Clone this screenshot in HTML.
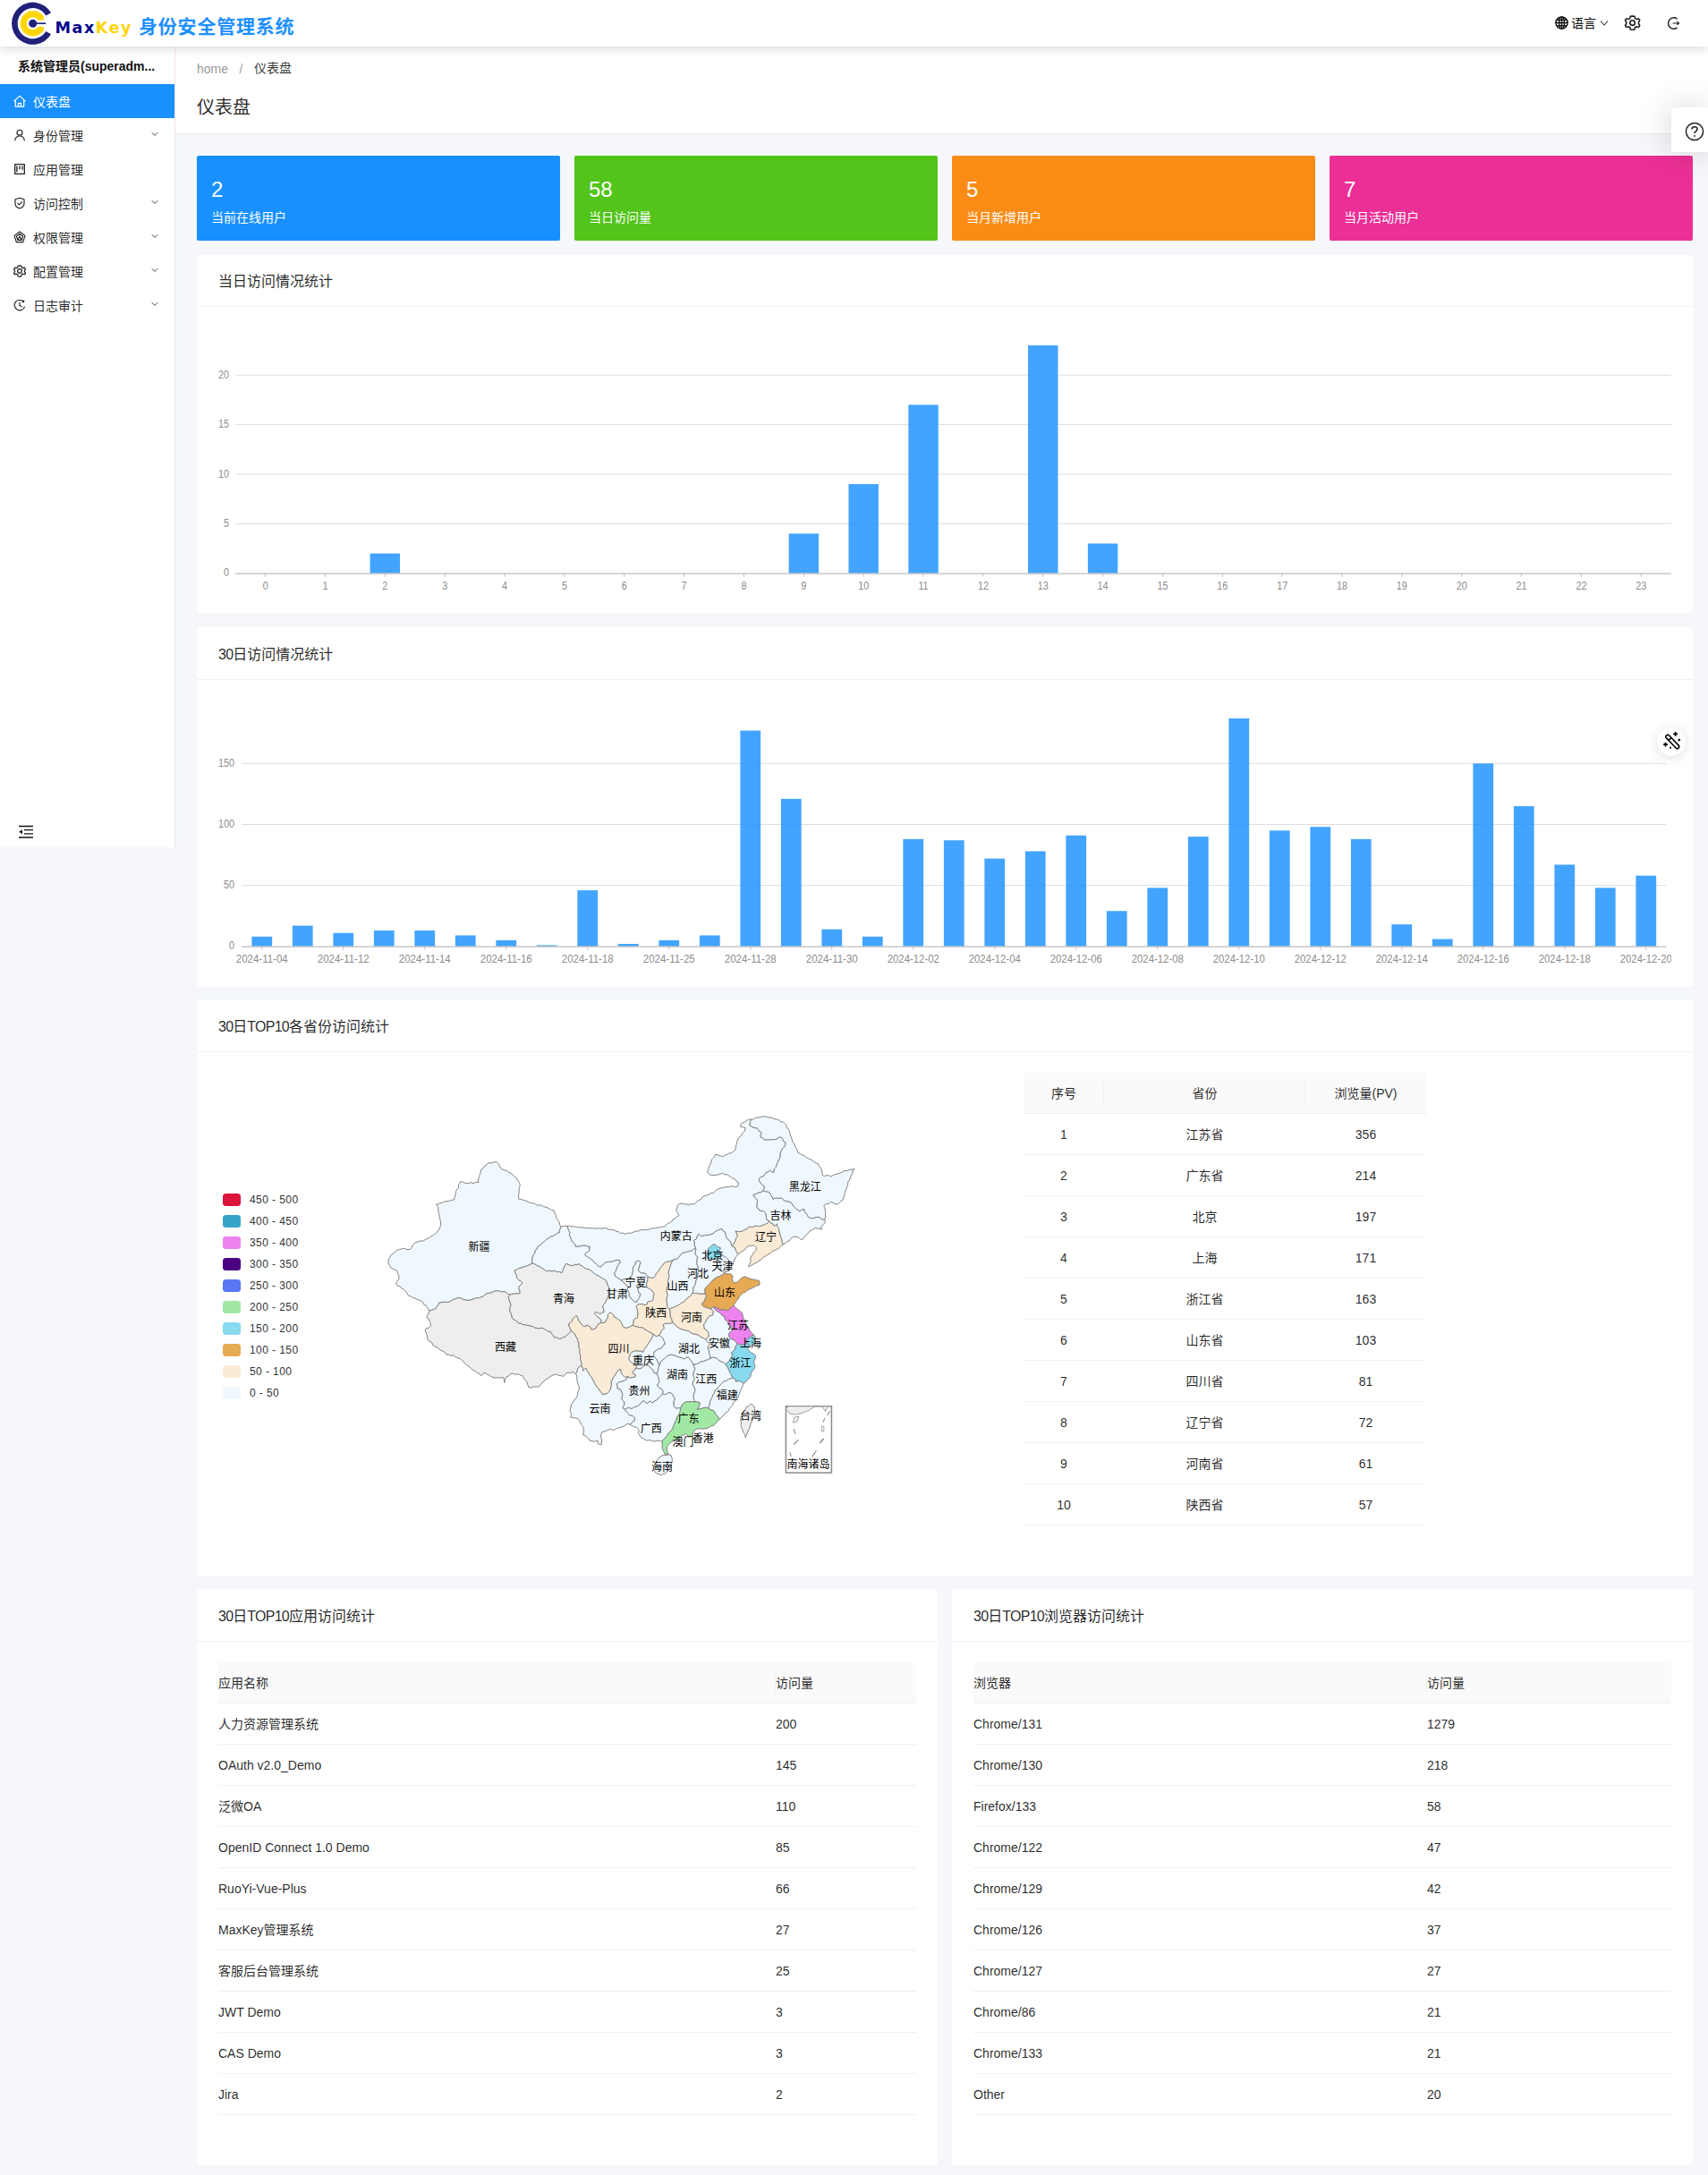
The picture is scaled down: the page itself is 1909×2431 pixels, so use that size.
<!DOCTYPE html>
<html lang="zh-CN"><head><meta charset="utf-8"><title>MaxKey</title><style>
*{box-sizing:border-box;margin:0;padding:0}
html,body{width:1909px;height:2431px;overflow:hidden}
body{background:#f5f7fa;font-family:"Liberation Sans","Noto Sans CJK SC",sans-serif;font-size:14px;color:rgba(0,0,0,.85);position:relative}
.abs{position:absolute}
#hdr{position:absolute;left:0;top:0;width:1909px;height:52px;background:#fff;box-shadow:0 1px 12px rgba(0,21,41,.2);z-index:10}
#side{position:absolute;left:0;top:52px;width:196px;height:895px;background:#fff;border-right:1px solid #f5e4e8;z-index:5}
#ph{position:absolute;left:196px;top:52px;width:1713px;height:98px;background:#fff;border-bottom:1px solid #f5e4e8}
.mi{position:absolute;left:0;width:195px;height:38px;line-height:38px;font-size:14px;color:rgba(0,0,0,.85)}
.mi .t{position:absolute;left:37px;top:1px}
.mi svg.ic{position:absolute;left:15px;top:12px;width:14px;height:14px}
.mi svg.ar{position:absolute;left:169px;top:14px;width:8px;height:8px}
.mi.sel{background:#1890ff;color:#fff}
.card{position:absolute;top:174px;width:406px;height:95px;border-radius:2px;color:#fff}
.card .n{position:absolute;left:16px;top:24px;font-size:24px;line-height:28px}
.card .l{position:absolute;left:16px;top:59px;font-size:14px;line-height:20px}
.panel{position:absolute;background:#fff;border-radius:2px}
.panel .pt{position:absolute;left:24px;top:0;height:57px;line-height:60px;font-size:16px;color:rgba(0,0,0,.85)}
.pt i{font-style:normal;letter-spacing:-.75px}
.panel .pl{position:absolute;left:0;top:57.5px;width:100%;height:1px;background:#f0f0f0}
svg text{font-family:"Liberation Sans","Noto Sans CJK SC",sans-serif}
table{border-collapse:collapse;table-layout:fixed;font-size:14px;color:rgba(0,0,0,.85)}
th{background:#fafafa;font-weight:normal;height:45px;border-bottom:1px solid #f0f0f0;position:relative}
td{height:46px;border-bottom:1px solid #f0f0f0}
td.la{padding-top:2px}
.tc th,.tc td{text-align:center}
.tl th,.tl td{text-align:left}
th.sep:after{content:"";position:absolute;right:0;top:11.5px;width:1px;height:22px;background:#f0f0f0}
</style></head><body>
<div id="hdr">
<svg class="abs" style="left:10px;top:0" width="52" height="52" viewBox="0 0 52 52">
 <path d="M47.0 14.2 A23.6 23.6 0 1 0 47.0 38.2 L41.4 35 A17.1 17.1 0 1 1 41.4 17.4 Z" fill="#21217a"/>
 <path d="M38.9 18.7 A14.2 14.2 0 1 0 38.9 33.7 L38.9 30 L32.7 29.7 A6.9 6.9 0 1 1 32.7 22.7 L38.9 22.4 Z" fill="#ffd60a"/>
 <circle cx="26.7" cy="26.2" r="4.5" fill="#21217a"/>
 <rect x="26.7" y="25.4" width="14.5" height="1.6" fill="#21217a"/>
</svg>
<div class="abs" style="left:61.5px;top:17.6px;font-family:'DejaVu Sans',sans-serif;font-size:17.6px;line-height:26px;font-weight:bold;letter-spacing:1.5px;white-space:nowrap"><span style="color:#00008b">Max</span><span style="color:#ffd60a">Key</span></div>
<div class="abs" style="left:155px;top:15px;font-size:21px;line-height:30px;font-weight:bold;letter-spacing:.8px;color:#1e90ff;white-space:nowrap">身份安全管理系统</div>
<svg class="abs" style="left:1737.5px;top:18.3px" width="15" height="15" viewBox="0 0 15 15" fill="none" stroke="#111" stroke-width="1.45">
<circle cx="7.5" cy="7.5" r="6.6"/><ellipse cx="7.5" cy="7.5" rx="3" ry="6.6"/><path d="M7.5 .9V14.1M.9 7.5H14.1M1.8 4.3H13.2M1.8 10.7H13.2"/></svg>
<div class="abs" style="left:1756px;top:15px;font-size:14px;line-height:22px;color:#111">语言</div>
<svg class="abs" style="left:1788px;top:22px" width="10" height="8" viewBox="0 0 10 8" fill="none" stroke="#333" stroke-width="1.1"><path d="M1 1.5L5 6L9 1.5"/></svg>
<svg class="abs" style="left:1815.2px;top:16.3px" width="19.2" height="19.2" viewBox="0 0 18 18" fill="none" stroke="#1a1a1a" stroke-width="1.45" stroke-linejoin="miter"><g transform="translate(0,1.1)"><path d="M9.0 0.7 L11.1 1.0 L11.7 3.2 L13.1 4.0 L15.3 3.4 L16.6 5.1 L15.5 7.1 L15.5 8.7 L16.6 10.7 L15.3 12.4 L13.1 11.8 L11.7 12.6 L11.1 14.8 L9.0 15.1 L6.9 14.8 L6.3 12.6 L4.9 11.8 L2.7 12.4 L1.4 10.7 L2.5 8.7 L2.5 7.1 L1.4 5.1 L2.7 3.4 L4.9 4.0 L6.3 3.2 L6.9 1.0 Z"/><circle cx="9" cy="7.9" r="2.6"/></g></svg>
<svg class="abs" style="left:1863px;top:18px" width="16" height="16" viewBox="0 0 16 16" fill="none" stroke="#222" stroke-width="1.45">
<path d="M11.6 3.1A6.2 6.2 0 1 0 11.6 12.9"/><path d="M6.5 8H13.5M11.3 6.2L13.6 8L11.3 9.8" stroke-width="1.1"/></svg>
</div>
<div id="side">
<div class="abs" style="left:20px;top:11px;width:160px;font-size:14px;line-height:22px;font-weight:bold;color:#111;white-space:nowrap">系统管理员(superadm...</div>
<div class="mi sel" style="top:42px"><svg class="ic" viewBox="0 0 14 14" fill="none" stroke="#fff" stroke-width="1.15" stroke-linejoin="round"><path d="M.5 7.4L7 1.1L13.5 7.4M2.3 6.2V13.1H11.7V6.2M5.5 13.1V9.4H8.5V13.1" stroke-width="1.25"/></svg><span class="t">仪表盘</span></div>
<div class="mi" style="top:80px"><svg class="ic" viewBox="0 0 14 14" fill="none" stroke="#222" stroke-width="1.15" stroke-linejoin="round"><circle cx="7" cy="4.2" r="3"/><path d="M1.6 13.2C2 9.8 4.2 8 7 8S12 9.8 12.4 13.2"/></svg><span class="t">身份管理</span><svg class="ar" viewBox="0 0 8 8" fill="none" stroke="#444" stroke-width="1"><path d="M.8 2.2L4 5.4L7.2 2.200"/></svg></div>
<div class="mi" style="top:118px"><svg class="ic" viewBox="0 0 14 14" fill="none" stroke="#222" stroke-width="1.15" stroke-linejoin="round"><rect x="1.65" y="1.65" width="10.7" height="10.7" stroke-width="1.3"/><path d="M3.9 3.4V10.3M7 3.4V7.2M10.1 3.4V7.8" stroke-width="1.35"/></svg><span class="t">应用管理</span></div>
<div class="mi" style="top:156px"><svg class="ic" viewBox="0 0 14 14" fill="none" stroke="#222" stroke-width="1.15" stroke-linejoin="round"><path d="M7 1.2L12 2.8V7.6C12 10.4 9.6 12.2 7 13C4.400 12.2 2 10.4 2 7.600V2.8Z"/><path d="M4.4 6.9L6.4 8.9L9.800 5.400"/></svg><span class="t">访问控制</span><svg class="ar" viewBox="0 0 8 8" fill="none" stroke="#444" stroke-width="1"><path d="M.8 2.2L4 5.4L7.2 2.200"/></svg></div>
<div class="mi" style="top:194px"><svg class="ic" viewBox="0 0 14 14" fill="none" stroke="#222" stroke-width="1.15" stroke-linejoin="round"><path d="M7 1L13 5.4L10.7 12.6H3.3L1 5.4Z"/><path d="M7 3.4L10.6 6L9.2 10.4H4.8L3.4 6Z"/><path d="M4.8 10.4L7 6.2L9.2 10.4"/></svg><span class="t">权限管理</span><svg class="ar" viewBox="0 0 8 8" fill="none" stroke="#444" stroke-width="1"><path d="M.8 2.2L4 5.4L7.2 2.200"/></svg></div>
<div class="mi" style="top:232px"><svg class="ic" viewBox="0 0 14 14" fill="none" stroke="#222" stroke-width="1.15" stroke-linejoin="round"><g transform="translate(-.65,.2) scale(.85)"><path d="M9.0 0.7 L11.1 1.0 L11.7 3.2 L13.1 4.0 L15.3 3.4 L16.6 5.1 L15.5 7.1 L15.5 8.7 L16.6 10.7 L15.3 12.4 L13.1 11.8 L11.7 12.6 L11.1 14.8 L9.0 15.1 L6.9 14.8 L6.3 12.6 L4.9 11.8 L2.7 12.4 L1.4 10.7 L2.5 8.7 L2.5 7.1 L1.4 5.1 L2.7 3.4 L4.9 4.0 L6.3 3.2 L6.9 1.0 Z" stroke-width="1.5"/><circle cx="9" cy="7.9" r="2.7" stroke-width="1.5"/></g></svg><span class="t">配置管理</span><svg class="ar" viewBox="0 0 8 8" fill="none" stroke="#444" stroke-width="1"><path d="M.8 2.2L4 5.4L7.2 2.200"/></svg></div>
<div class="mi" style="top:270px"><svg class="ic" viewBox="0 0 14 14" fill="none" stroke="#222" stroke-width="1.15" stroke-linejoin="round"><path d="M11.2 3.0A5.8 5.8 0 1 0 12.6 8.6"/><path d="M7 3.8V7.4L9.6 8.9"/><path d="M11.6 1.6V3.4H9.8"/></svg><span class="t">日志审计</span><svg class="ar" viewBox="0 0 8 8" fill="none" stroke="#444" stroke-width="1"><path d="M.8 2.2L4 5.4L7.2 2.200"/></svg></div>
<svg class="abs" style="left:20px;top:870.3px" width="18" height="16" viewBox="0 0 18 16" fill="none" stroke="#111" stroke-width="1.3"><path d="M1 1.5H17M7 5.700H17M7 9.800H17M1 14H17"/><path d="M5 5.200L1.200 7.700L5 10.200Z" fill="#111" stroke="none"/></svg>
</div>
<div id="ph">
<div class="abs" style="left:24px;top:14px;font-size:14px;line-height:22px;color:rgba(0,0,0,.45)">home</div>
<div class="abs" style="left:71.5px;top:14px;font-size:14px;line-height:22px;color:rgba(0,0,0,.45)">/</div>
<div class="abs" style="left:88px;top:13px;font-size:14px;line-height:22px;color:rgba(0,0,0,.8)">仪表盘</div>
<div class="abs" style="left:24px;top:52px;font-size:20px;line-height:32px;color:rgba(0,0,0,.85)">仪表盘</div>
</div>
<div class="abs" style="left:1868px;top:120px;width:41px;height:50px;background:#fff;border-radius:3px 0 0 3px;box-shadow:-2px 0 36px rgba(0,0,0,.16);z-index:12"><svg class="abs" style="left:15px;top:16px" width="22" height="22" viewBox="0 0 22 22" fill="none" stroke="#222" stroke-width="1.5"><circle cx="11" cy="11" r="9.600"/><path d="M8 8.600C8 6.800 9.300 5.800 11 5.800S14 6.900 14 8.500C14 10.600 11 10.600 11 13" stroke-width="1.600"/><circle cx="11" cy="16" r=".9" fill="#222" stroke="none"/></svg></div>
<div class="card" style="left:220px;background:#1890ff"><div class="n">2</div><div class="l">当前在线用户</div></div>
<div class="card" style="left:642px;background:#52c41a"><div class="n">58</div><div class="l">当日访问量</div></div>
<div class="card" style="left:1064px;background:#fa8c16"><div class="n">5</div><div class="l">当月新增用户</div></div>
<div class="card" style="left:1486px;background:#eb2f96"><div class="n">7</div><div class="l">当月活动用户</div></div>
<div class="panel" style="left:220px;top:285px;width:1672px;height:399.500px"><div class="pt">当日访问情况统计</div><div class="pl" style="top:57.2px"></div></div><svg class="abs" style="left:220px;top:343px" width="1672" height="340" viewBox="220 343 1672 340"><line x1="263.2" x2="1867.7" y1="585.38" y2="585.38" stroke="#dedede" stroke-width="1"/><line x1="263.2" x2="1867.7" y1="530.00" y2="530.00" stroke="#dedede" stroke-width="1"/><line x1="263.2" x2="1867.7" y1="474.62" y2="474.62" stroke="#dedede" stroke-width="1"/><line x1="263.2" x2="1867.7" y1="419.25" y2="419.25" stroke="#dedede" stroke-width="1"/><text transform="translate(256,644.25) scale(.9,1)" text-anchor="end" font-size="12" fill="#8c8c8c">0</text><text transform="translate(256,588.88) scale(.9,1)" text-anchor="end" font-size="12" fill="#8c8c8c">5</text><text transform="translate(256,533.50) scale(.9,1)" text-anchor="end" font-size="12" fill="#8c8c8c">10</text><text transform="translate(256,478.12) scale(.9,1)" text-anchor="end" font-size="12" fill="#8c8c8c">15</text><text transform="translate(256,422.75) scale(.9,1)" text-anchor="end" font-size="12" fill="#8c8c8c">20</text><line x1="296.63" x2="296.63" y1="640.75" y2="644.75" stroke="#bfbfbf" stroke-width="1"/><text transform="translate(296.63,659.30) scale(.9,1)" text-anchor="middle" font-size="12" fill="#8c8c8c">0</text><line x1="363.48" x2="363.48" y1="640.75" y2="644.75" stroke="#bfbfbf" stroke-width="1"/><text transform="translate(363.48,659.30) scale(.9,1)" text-anchor="middle" font-size="12" fill="#8c8c8c">1</text><line x1="430.34" x2="430.34" y1="640.75" y2="644.75" stroke="#bfbfbf" stroke-width="1"/><text transform="translate(430.34,659.30) scale(.9,1)" text-anchor="middle" font-size="12" fill="#8c8c8c">2</text><rect x="413.62" y="618.60" width="33.43" height="22.15" fill="#1890ff" fill-opacity=".82"/><line x1="497.19" x2="497.19" y1="640.75" y2="644.75" stroke="#bfbfbf" stroke-width="1"/><text transform="translate(497.19,659.30) scale(.9,1)" text-anchor="middle" font-size="12" fill="#8c8c8c">3</text><line x1="564.04" x2="564.04" y1="640.75" y2="644.75" stroke="#bfbfbf" stroke-width="1"/><text transform="translate(564.04,659.30) scale(.9,1)" text-anchor="middle" font-size="12" fill="#8c8c8c">4</text><line x1="630.90" x2="630.90" y1="640.75" y2="644.75" stroke="#bfbfbf" stroke-width="1"/><text transform="translate(630.90,659.30) scale(.9,1)" text-anchor="middle" font-size="12" fill="#8c8c8c">5</text><line x1="697.75" x2="697.75" y1="640.75" y2="644.75" stroke="#bfbfbf" stroke-width="1"/><text transform="translate(697.75,659.30) scale(.9,1)" text-anchor="middle" font-size="12" fill="#8c8c8c">6</text><line x1="764.61" x2="764.61" y1="640.75" y2="644.75" stroke="#bfbfbf" stroke-width="1"/><text transform="translate(764.61,659.30) scale(.9,1)" text-anchor="middle" font-size="12" fill="#8c8c8c">7</text><line x1="831.46" x2="831.46" y1="640.75" y2="644.75" stroke="#bfbfbf" stroke-width="1"/><text transform="translate(831.46,659.30) scale(.9,1)" text-anchor="middle" font-size="12" fill="#8c8c8c">8</text><line x1="898.31" x2="898.31" y1="640.75" y2="644.75" stroke="#bfbfbf" stroke-width="1"/><text transform="translate(898.31,659.30) scale(.9,1)" text-anchor="middle" font-size="12" fill="#8c8c8c">9</text><rect x="881.60" y="596.45" width="33.43" height="44.30" fill="#1890ff" fill-opacity=".82"/><line x1="965.17" x2="965.17" y1="640.75" y2="644.75" stroke="#bfbfbf" stroke-width="1"/><text transform="translate(965.17,659.30) scale(.9,1)" text-anchor="middle" font-size="12" fill="#8c8c8c">10</text><rect x="948.46" y="541.08" width="33.43" height="99.67" fill="#1890ff" fill-opacity=".82"/><line x1="1032.02" x2="1032.02" y1="640.75" y2="644.75" stroke="#bfbfbf" stroke-width="1"/><text transform="translate(1032.02,659.30) scale(.9,1)" text-anchor="middle" font-size="12" fill="#8c8c8c">11</text><rect x="1015.31" y="452.48" width="33.43" height="188.27" fill="#1890ff" fill-opacity=".82"/><line x1="1098.88" x2="1098.88" y1="640.75" y2="644.75" stroke="#bfbfbf" stroke-width="1"/><text transform="translate(1098.88,659.30) scale(.9,1)" text-anchor="middle" font-size="12" fill="#8c8c8c">12</text><line x1="1165.73" x2="1165.73" y1="640.75" y2="644.75" stroke="#bfbfbf" stroke-width="1"/><text transform="translate(1165.73,659.30) scale(.9,1)" text-anchor="middle" font-size="12" fill="#8c8c8c">13</text><rect x="1149.02" y="386.02" width="33.43" height="254.72" fill="#1890ff" fill-opacity=".82"/><line x1="1232.59" x2="1232.59" y1="640.75" y2="644.75" stroke="#bfbfbf" stroke-width="1"/><text transform="translate(1232.59,659.30) scale(.9,1)" text-anchor="middle" font-size="12" fill="#8c8c8c">14</text><rect x="1215.87" y="607.52" width="33.43" height="33.22" fill="#1890ff" fill-opacity=".82"/><line x1="1299.44" x2="1299.44" y1="640.75" y2="644.75" stroke="#bfbfbf" stroke-width="1"/><text transform="translate(1299.44,659.30) scale(.9,1)" text-anchor="middle" font-size="12" fill="#8c8c8c">15</text><line x1="1366.29" x2="1366.29" y1="640.75" y2="644.75" stroke="#bfbfbf" stroke-width="1"/><text transform="translate(1366.29,659.30) scale(.9,1)" text-anchor="middle" font-size="12" fill="#8c8c8c">16</text><line x1="1433.15" x2="1433.15" y1="640.75" y2="644.75" stroke="#bfbfbf" stroke-width="1"/><text transform="translate(1433.15,659.30) scale(.9,1)" text-anchor="middle" font-size="12" fill="#8c8c8c">17</text><line x1="1500.00" x2="1500.00" y1="640.75" y2="644.75" stroke="#bfbfbf" stroke-width="1"/><text transform="translate(1500.00,659.30) scale(.9,1)" text-anchor="middle" font-size="12" fill="#8c8c8c">18</text><line x1="1566.86" x2="1566.86" y1="640.75" y2="644.75" stroke="#bfbfbf" stroke-width="1"/><text transform="translate(1566.86,659.30) scale(.9,1)" text-anchor="middle" font-size="12" fill="#8c8c8c">19</text><line x1="1633.71" x2="1633.71" y1="640.75" y2="644.75" stroke="#bfbfbf" stroke-width="1"/><text transform="translate(1633.71,659.30) scale(.9,1)" text-anchor="middle" font-size="12" fill="#8c8c8c">20</text><line x1="1700.56" x2="1700.56" y1="640.75" y2="644.75" stroke="#bfbfbf" stroke-width="1"/><text transform="translate(1700.56,659.30) scale(.9,1)" text-anchor="middle" font-size="12" fill="#8c8c8c">21</text><line x1="1767.42" x2="1767.42" y1="640.75" y2="644.75" stroke="#bfbfbf" stroke-width="1"/><text transform="translate(1767.42,659.30) scale(.9,1)" text-anchor="middle" font-size="12" fill="#8c8c8c">22</text><line x1="1834.27" x2="1834.27" y1="640.75" y2="644.75" stroke="#bfbfbf" stroke-width="1"/><text transform="translate(1834.27,659.30) scale(.9,1)" text-anchor="middle" font-size="12" fill="#8c8c8c">23</text><line x1="263.2" x2="1867.7" y1="641.10" y2="641.10" stroke="#bdbdbd" stroke-width="1.3"/></svg>
<div class="panel" style="left:220px;top:701.25px;width:1672px;height:400.5px"><div class="pt" style="top:.5px"><i>30</i>日访问情况统计</div><div class="pl" style="top:57.7px"></div></div><svg class="abs" style="left:220px;top:760px;overflow:hidden" width="1648" height="340" viewBox="220 760 1648 340"><line x1="270.0" x2="1862.5" y1="989.62" y2="989.62" stroke="#dedede" stroke-width="1"/><line x1="270.0" x2="1862.5" y1="921.50" y2="921.50" stroke="#dedede" stroke-width="1"/><line x1="270.0" x2="1862.5" y1="853.38" y2="853.38" stroke="#dedede" stroke-width="1"/><text transform="translate(262,1061.25) scale(.9,1)" text-anchor="end" font-size="12" fill="#8c8c8c">0</text><text transform="translate(262,993.12) scale(.9,1)" text-anchor="end" font-size="12" fill="#8c8c8c">50</text><text transform="translate(262,925.00) scale(.9,1)" text-anchor="end" font-size="12" fill="#8c8c8c">100</text><text transform="translate(262,856.88) scale(.9,1)" text-anchor="end" font-size="12" fill="#8c8c8c">150</text><rect x="281.38" y="1046.85" width="22.75" height="10.90" fill="#1890ff" fill-opacity=".82"/><line x1="292.75" x2="292.75" y1="1057.75" y2="1061.75" stroke="#bfbfbf" stroke-width="1"/><text x="292.75" y="1076.00" text-anchor="middle" font-size="12" fill="#8c8c8c" textLength="58" lengthAdjust="spacingAndGlyphs">2024-11-04</text><rect x="326.88" y="1034.59" width="22.75" height="23.16" fill="#1890ff" fill-opacity=".82"/><rect x="372.38" y="1042.76" width="22.75" height="14.99" fill="#1890ff" fill-opacity=".82"/><line x1="383.75" x2="383.75" y1="1057.75" y2="1061.75" stroke="#bfbfbf" stroke-width="1"/><text x="383.75" y="1076.00" text-anchor="middle" font-size="12" fill="#8c8c8c" textLength="58" lengthAdjust="spacingAndGlyphs">2024-11-12</text><rect x="417.88" y="1040.04" width="22.75" height="17.71" fill="#1890ff" fill-opacity=".82"/><rect x="463.38" y="1040.04" width="22.75" height="17.71" fill="#1890ff" fill-opacity=".82"/><line x1="474.75" x2="474.75" y1="1057.75" y2="1061.75" stroke="#bfbfbf" stroke-width="1"/><text x="474.75" y="1076.00" text-anchor="middle" font-size="12" fill="#8c8c8c" textLength="58" lengthAdjust="spacingAndGlyphs">2024-11-14</text><rect x="508.88" y="1045.49" width="22.75" height="12.26" fill="#1890ff" fill-opacity=".82"/><rect x="554.38" y="1050.94" width="22.75" height="6.81" fill="#1890ff" fill-opacity=".82"/><line x1="565.75" x2="565.75" y1="1057.75" y2="1061.75" stroke="#bfbfbf" stroke-width="1"/><text x="565.75" y="1076.00" text-anchor="middle" font-size="12" fill="#8c8c8c" textLength="58" lengthAdjust="spacingAndGlyphs">2024-11-16</text><rect x="599.88" y="1056.39" width="22.75" height="1.36" fill="#1890ff" fill-opacity=".82"/><rect x="645.38" y="995.08" width="22.75" height="62.68" fill="#1890ff" fill-opacity=".82"/><line x1="656.75" x2="656.75" y1="1057.75" y2="1061.75" stroke="#bfbfbf" stroke-width="1"/><text x="656.75" y="1076.00" text-anchor="middle" font-size="12" fill="#8c8c8c" textLength="58" lengthAdjust="spacingAndGlyphs">2024-11-18</text><rect x="690.88" y="1055.03" width="22.75" height="2.73" fill="#1890ff" fill-opacity=".82"/><rect x="736.38" y="1050.94" width="22.75" height="6.81" fill="#1890ff" fill-opacity=".82"/><line x1="747.75" x2="747.75" y1="1057.75" y2="1061.75" stroke="#bfbfbf" stroke-width="1"/><text x="747.75" y="1076.00" text-anchor="middle" font-size="12" fill="#8c8c8c" textLength="58" lengthAdjust="spacingAndGlyphs">2024-11-25</text><rect x="781.88" y="1045.49" width="22.75" height="12.26" fill="#1890ff" fill-opacity=".82"/><rect x="827.38" y="816.59" width="22.75" height="241.16" fill="#1890ff" fill-opacity=".82"/><line x1="838.75" x2="838.75" y1="1057.75" y2="1061.75" stroke="#bfbfbf" stroke-width="1"/><text x="838.75" y="1076.00" text-anchor="middle" font-size="12" fill="#8c8c8c" textLength="58" lengthAdjust="spacingAndGlyphs">2024-11-28</text><rect x="872.88" y="892.89" width="22.75" height="164.86" fill="#1890ff" fill-opacity=".82"/><rect x="918.38" y="1038.67" width="22.75" height="19.07" fill="#1890ff" fill-opacity=".82"/><line x1="929.75" x2="929.75" y1="1057.75" y2="1061.75" stroke="#bfbfbf" stroke-width="1"/><text x="929.75" y="1076.00" text-anchor="middle" font-size="12" fill="#8c8c8c" textLength="58" lengthAdjust="spacingAndGlyphs">2024-11-30</text><rect x="963.88" y="1046.85" width="22.75" height="10.90" fill="#1890ff" fill-opacity=".82"/><rect x="1009.38" y="937.85" width="22.75" height="119.90" fill="#1890ff" fill-opacity=".82"/><line x1="1020.75" x2="1020.75" y1="1057.75" y2="1061.75" stroke="#bfbfbf" stroke-width="1"/><text x="1020.75" y="1076.00" text-anchor="middle" font-size="12" fill="#8c8c8c" textLength="58" lengthAdjust="spacingAndGlyphs">2024-12-02</text><rect x="1054.88" y="939.21" width="22.75" height="118.54" fill="#1890ff" fill-opacity=".82"/><rect x="1100.38" y="959.65" width="22.75" height="98.10" fill="#1890ff" fill-opacity=".82"/><line x1="1111.75" x2="1111.75" y1="1057.75" y2="1061.75" stroke="#bfbfbf" stroke-width="1"/><text x="1111.75" y="1076.00" text-anchor="middle" font-size="12" fill="#8c8c8c" textLength="58" lengthAdjust="spacingAndGlyphs">2024-12-04</text><rect x="1145.88" y="951.48" width="22.75" height="106.28" fill="#1890ff" fill-opacity=".82"/><rect x="1191.38" y="933.76" width="22.75" height="123.99" fill="#1890ff" fill-opacity=".82"/><line x1="1202.75" x2="1202.75" y1="1057.75" y2="1061.75" stroke="#bfbfbf" stroke-width="1"/><text x="1202.75" y="1076.00" text-anchor="middle" font-size="12" fill="#8c8c8c" textLength="58" lengthAdjust="spacingAndGlyphs">2024-12-06</text><rect x="1236.88" y="1018.24" width="22.75" height="39.51" fill="#1890ff" fill-opacity=".82"/><rect x="1282.38" y="992.35" width="22.75" height="65.40" fill="#1890ff" fill-opacity=".82"/><line x1="1293.75" x2="1293.75" y1="1057.75" y2="1061.75" stroke="#bfbfbf" stroke-width="1"/><text x="1293.75" y="1076.00" text-anchor="middle" font-size="12" fill="#8c8c8c" textLength="58" lengthAdjust="spacingAndGlyphs">2024-12-08</text><rect x="1327.88" y="935.12" width="22.75" height="122.62" fill="#1890ff" fill-opacity=".82"/><rect x="1373.38" y="802.96" width="22.75" height="254.79" fill="#1890ff" fill-opacity=".82"/><line x1="1384.75" x2="1384.75" y1="1057.75" y2="1061.75" stroke="#bfbfbf" stroke-width="1"/><text x="1384.75" y="1076.00" text-anchor="middle" font-size="12" fill="#8c8c8c" textLength="58" lengthAdjust="spacingAndGlyphs">2024-12-10</text><rect x="1418.88" y="928.31" width="22.75" height="129.44" fill="#1890ff" fill-opacity=".82"/><rect x="1464.38" y="924.23" width="22.75" height="133.53" fill="#1890ff" fill-opacity=".82"/><line x1="1475.75" x2="1475.75" y1="1057.75" y2="1061.75" stroke="#bfbfbf" stroke-width="1"/><text x="1475.75" y="1076.00" text-anchor="middle" font-size="12" fill="#8c8c8c" textLength="58" lengthAdjust="spacingAndGlyphs">2024-12-12</text><rect x="1509.88" y="937.85" width="22.75" height="119.90" fill="#1890ff" fill-opacity=".82"/><rect x="1555.38" y="1033.22" width="22.75" height="24.53" fill="#1890ff" fill-opacity=".82"/><line x1="1566.75" x2="1566.75" y1="1057.75" y2="1061.75" stroke="#bfbfbf" stroke-width="1"/><text x="1566.75" y="1076.00" text-anchor="middle" font-size="12" fill="#8c8c8c" textLength="58" lengthAdjust="spacingAndGlyphs">2024-12-14</text><rect x="1600.88" y="1049.58" width="22.75" height="8.18" fill="#1890ff" fill-opacity=".82"/><rect x="1646.38" y="853.38" width="22.75" height="204.38" fill="#1890ff" fill-opacity=".82"/><line x1="1657.75" x2="1657.75" y1="1057.75" y2="1061.75" stroke="#bfbfbf" stroke-width="1"/><text x="1657.75" y="1076.00" text-anchor="middle" font-size="12" fill="#8c8c8c" textLength="58" lengthAdjust="spacingAndGlyphs">2024-12-16</text><rect x="1691.88" y="901.06" width="22.75" height="156.69" fill="#1890ff" fill-opacity=".82"/><rect x="1737.38" y="966.46" width="22.75" height="91.29" fill="#1890ff" fill-opacity=".82"/><line x1="1748.75" x2="1748.75" y1="1057.75" y2="1061.75" stroke="#bfbfbf" stroke-width="1"/><text x="1748.75" y="1076.00" text-anchor="middle" font-size="12" fill="#8c8c8c" textLength="58" lengthAdjust="spacingAndGlyphs">2024-12-18</text><rect x="1782.88" y="992.35" width="22.75" height="65.40" fill="#1890ff" fill-opacity=".82"/><rect x="1828.38" y="978.73" width="22.75" height="79.03" fill="#1890ff" fill-opacity=".82"/><line x1="1839.75" x2="1839.75" y1="1057.75" y2="1061.75" stroke="#bfbfbf" stroke-width="1"/><text x="1839.75" y="1076.00" text-anchor="middle" font-size="12" fill="#8c8c8c" textLength="58" lengthAdjust="spacingAndGlyphs">2024-12-20</text><line x1="270.0" x2="1862.5" y1="1058.10" y2="1058.10" stroke="#bdbdbd" stroke-width="1.3"/></svg>
<div class="abs" style="left:1852px;top:813px;width:32px;height:32px;border-radius:16px;background:#fff;box-shadow:0 2px 14px rgba(0,0,0,.13);z-index:11"><svg class="abs" style="left:0;top:0" width="32" height="32" viewBox="0 0 32 32" fill="none" stroke="#000" stroke-width="1.5"><g transform="translate(17.3,16) rotate(46.3)"><rect x="-9.800" y="-2.100" width="19.600" height="4.200" rx="2.100"/><path d="M-4.200 -2.100V2.100"/></g><path d="M20.600 4.900V9.700M18.200 7.300H23M9.500 16.700V21.500M7.100 19.100H11.900" stroke-width="1.700"/><circle cx="24.800" cy="14.100" r="1.350" fill="#000" stroke="none"/><circle cx="15" cy="22.800" r="1.050" fill="#000" stroke="none"/></svg></div>
<div class="panel" style="left:220px;top:1118px;width:1672px;height:642.750px"><div class="pt" style="top:.3px"><i>30</i>日<i>TOP10</i>各省份访问统计</div><div class="pl" style="top:56.6px"></div></div>
<div class="abs" style="left:249px;top:1334px;width:20px;height:14px;border-radius:3.500px;background:#dc143c"></div><div class="abs" style="left:279px;top:1334px;font-size:12px;line-height:14px;color:#333;white-space:nowrap;letter-spacing:.42px">450 - 500</div>
<div class="abs" style="left:249px;top:1358px;width:20px;height:14px;border-radius:3.500px;background:#36a3c9"></div><div class="abs" style="left:279px;top:1358px;font-size:12px;line-height:14px;color:#333;white-space:nowrap;letter-spacing:.42px">400 - 450</div>
<div class="abs" style="left:249px;top:1382px;width:20px;height:14px;border-radius:3.500px;background:#ee82ee"></div><div class="abs" style="left:279px;top:1382px;font-size:12px;line-height:14px;color:#333;white-space:nowrap;letter-spacing:.42px">350 - 400</div>
<div class="abs" style="left:249px;top:1406px;width:20px;height:14px;border-radius:3.500px;background:#4b0082"></div><div class="abs" style="left:279px;top:1406px;font-size:12px;line-height:14px;color:#333;white-space:nowrap;letter-spacing:.42px">300 - 350</div>
<div class="abs" style="left:249px;top:1430px;width:20px;height:14px;border-radius:3.500px;background:#5976f5"></div><div class="abs" style="left:279px;top:1430px;font-size:12px;line-height:14px;color:#333;white-space:nowrap;letter-spacing:.42px">250 - 300</div>
<div class="abs" style="left:249px;top:1454px;width:20px;height:14px;border-radius:3.500px;background:#a0e8a4"></div><div class="abs" style="left:279px;top:1454px;font-size:12px;line-height:14px;color:#333;white-space:nowrap;letter-spacing:.42px">200 - 250</div>
<div class="abs" style="left:249px;top:1478px;width:20px;height:14px;border-radius:3.500px;background:#87d9ee"></div><div class="abs" style="left:279px;top:1478px;font-size:12px;line-height:14px;color:#333;white-space:nowrap;letter-spacing:.42px">150 - 200</div>
<div class="abs" style="left:249px;top:1502px;width:20px;height:14px;border-radius:3.500px;background:#e6aa54"></div><div class="abs" style="left:279px;top:1502px;font-size:12px;line-height:14px;color:#333;white-space:nowrap;letter-spacing:.42px">100 - 150</div>
<div class="abs" style="left:249px;top:1526px;width:20px;height:14px;border-radius:3.500px;background:#faebd7"></div><div class="abs" style="left:279px;top:1526px;font-size:12px;line-height:14px;color:#333;white-space:nowrap;letter-spacing:.42px">50 - 100</div>
<div class="abs" style="left:249px;top:1550px;width:20px;height:14px;border-radius:3.500px;background:#f0f8ff"></div><div class="abs" style="left:279px;top:1550px;font-size:12px;line-height:14px;color:#333;white-space:nowrap;letter-spacing:.42px">0 - 50</div>
<svg class="abs" style="left:420px;top:1236px" width="560" height="430" viewBox="420 1236 560 430">
<g stroke="#828282" stroke-width="1" stroke-linejoin="round">
<path d="M479.5 1465.3L478.7 1462.8L477.1 1460.9L475.8 1458.8L473.2 1457.6L472.4 1455.1L469.5 1453.4L466.3 1452.5L464.0 1451.0L461.4 1450.3L459.1 1449.0L456.6 1448.1L455.0 1445.6L453.4 1443.2L451.3 1441.1L448.8 1440.0L447.1 1437.8L444.4 1437.0L442.6 1434.9L443.4 1432.7L445.0 1430.9L446.1 1428.8L445.6 1425.7L444.5 1422.9L443.4 1420.0L441.0 1418.9L438.6 1417.9L436.4 1416.5L435.4 1414.2L434.1 1412.0L433.8 1409.4L434.7 1407.0L436.2 1404.8L437.3 1402.4L439.9 1401.0L441.9 1398.8L444.3 1397.1L446.7 1396.7L449.0 1395.9L451.3 1395.4L453.6 1396.2L456.0 1396.6L458.4 1396.3L460.1 1394.4L460.9 1391.9L462.8 1390.1L465.0 1388.6L467.5 1387.8L469.9 1386.9L472.8 1387.2L475.1 1385.7L477.1 1384.4L479.6 1383.9L481.3 1381.9L483.6 1381.0L485.6 1379.6L487.6 1378.1L489.0 1376.0L490.9 1374.3L491.9 1371.5L492.7 1368.6L492.6 1365.5L491.9 1362.9L491.1 1360.4L491.1 1357.7L490.1 1355.1L489.7 1352.5L490.0 1349.7L487.4 1346.2L489.8 1346.0L491.9 1344.7L494.3 1344.5L496.4 1343.0L498.8 1342.7L501.8 1342.4L504.6 1341.4L507.6 1340.9L508.2 1338.6L508.5 1336.2L509.3 1333.9L509.6 1331.5L510.8 1329.4L512.6 1327.6L512.3 1324.9L513.5 1322.9L514.6 1320.7L517.5 1321.4L520.3 1322.4L523.4 1322.5L526.2 1321.7L529.1 1322.8L531.9 1321.1L534.8 1321.6L534.6 1319.2L534.9 1316.8L535.6 1314.5L536.5 1312.2L537.3 1310.0L537.4 1307.6L539.6 1306.5L540.6 1304.1L542.9 1303.1L544.3 1301.0L546.2 1299.7L549.2 1300.0L552.1 1299.0L555.0 1298.4L556.8 1300.3L557.9 1302.6L559.1 1305.0L561.1 1306.7L563.4 1308.0L566.3 1308.2L568.4 1310.0L570.8 1311.1L573.0 1312.7L574.7 1314.9L576.9 1316.3L578.2 1318.5L579.6 1320.5L580.7 1322.7L581.3 1325.1L580.5 1327.6L580.1 1330.0L580.1 1332.6L579.7 1335.0L579.6 1337.5L579.6 1340.1L582.1 1340.2L584.4 1341.2L586.7 1342.0L589.1 1342.6L591.2 1343.9L593.6 1344.5L596.1 1344.7L598.4 1345.8L600.5 1347.2L603.2 1346.8L605.5 1347.4L607.7 1348.8L610.1 1349.2L612.4 1350.2L614.6 1351.3L616.7 1352.5L619.1 1353.2L619.8 1356.0L621.5 1358.4L621.8 1361.4L623.5 1363.8L625.1 1366.0L625.5 1368.8L627.0 1371.2L626.3 1373.3L625.3 1375.5L625.2 1377.8L622.7 1378.5L620.5 1380.0L618.3 1381.6L615.5 1381.8L613.6 1383.9L611.2 1384.9L609.2 1386.8L607.2 1388.6L605.2 1390.5L603.1 1392.3L600.7 1393.6L600.2 1396.1L598.0 1397.8L598.0 1400.5L596.3 1402.4L595.3 1404.7L594.7 1407.1L595.1 1409.7L594.5 1412.1L592.0 1413.6L589.4 1414.8L586.6 1415.6L584.3 1416.4L582.0 1417.2L579.5 1417.7L577.5 1419.2L575.2 1420.0L576.1 1422.9L577.4 1425.7L577.8 1428.8L579.7 1430.7L582.2 1431.9L584.0 1434.0L581.6 1436.5L579.6 1439.3L580.7 1442.3L581.3 1445.5L579.1 1446.1L576.7 1445.7L574.5 1446.3L572.1 1446.4L569.9 1447.2L567.6 1446.2L565.5 1444.6L563.0 1443.4L560.2 1444.1L557.7 1442.7L555.0 1442.8L552.3 1443.2L549.8 1444.6L547.2 1445.4L544.4 1445.5L542.1 1446.9L540.1 1449.0L537.4 1449.8L535.2 1450.8L532.6 1450.6L530.4 1451.5L528.1 1452.5L525.8 1453.0L523.4 1453.4L520.9 1453.0L518.3 1452.8L516.1 1451.2L513.6 1450.8L511.1 1450.7L508.9 1451.9L506.5 1452.5L504.3 1453.7L502.3 1455.1L499.4 1455.5L496.5 1455.2L493.7 1455.8L490.9 1456.0L489.7 1458.5L488.2 1460.8L486.5 1463.0L484.1 1463.8L481.8 1464.6L479.5 1465.3Z" fill="#f0f8ff"/>
<path d="M479.5 1465.3L481.8 1464.6L484.1 1463.8L486.5 1463.0L488.2 1460.8L489.7 1458.5L490.9 1456.0L493.7 1455.8L496.5 1455.2L499.4 1455.5L502.3 1455.1L504.3 1453.7L506.5 1452.5L508.9 1451.9L511.1 1450.7L513.6 1450.8L516.1 1451.2L518.3 1452.8L520.9 1453.0L523.4 1453.4L525.8 1453.0L528.1 1452.5L530.4 1451.5L532.6 1450.6L535.2 1450.8L537.4 1449.8L540.1 1449.0L542.1 1446.9L544.4 1445.5L547.2 1445.4L549.8 1444.6L552.3 1443.2L555.0 1442.8L557.7 1442.7L560.2 1444.1L563.0 1443.4L565.5 1444.6L567.6 1446.2L569.9 1447.2L568.2 1449.8L569.0 1452.2L569.5 1454.7L570.8 1456.9L570.8 1459.8L569.7 1462.7L569.9 1465.7L571.3 1468.1L572.0 1470.8L572.5 1473.6L575.1 1475.1L577.5 1476.8L579.6 1478.8L582.3 1479.0L584.7 1480.7L587.5 1480.7L590.1 1481.5L592.9 1481.8L595.6 1482.7L598.0 1484.1L600.4 1484.6L602.8 1484.8L605.3 1484.1L607.7 1485.0L610.2 1486.4L612.6 1488.0L615.6 1488.5L616.4 1490.7L618.3 1492.4L619.1 1494.6L622.4 1494.8L625.2 1496.4L627.5 1495.7L629.6 1494.6L632.1 1493.8L634.0 1492.0L636.5 1489.6L638.4 1486.7L640.1 1489.1L642.6 1490.9L643.7 1493.8L645.2 1495.9L645.8 1498.5L646.9 1500.8L647.2 1503.4L646.8 1506.2L648.3 1508.6L647.5 1511.4L648.7 1514.0L649.0 1516.6L648.6 1519.1L649.5 1521.4L650.0 1523.8L649.8 1526.3L646.3 1528.9L645.3 1531.2L644.7 1533.6L643.7 1535.8L640.2 1533.3L637.2 1534.4L634.0 1534.2L631.6 1536.1L629.6 1538.6L627.1 1537.5L624.2 1537.4L621.7 1535.9L619.1 1536.7L616.5 1537.7L614.2 1539.2L611.9 1540.9L609.4 1542.1L607.7 1544.0L605.9 1546.0L604.1 1547.9L602.4 1550.0L599.5 1549.9L596.7 1549.8L593.9 1551.0L591.0 1550.8L589.8 1547.9L589.2 1544.7L587.0 1542.7L585.3 1540.3L584.0 1537.7L581.7 1537.2L579.6 1535.9L577.1 1536.3L574.8 1535.9L572.5 1535.0L569.9 1536.0L568.1 1538.3L565.5 1539.4L564.2 1542.4L563.8 1545.6L563.5 1542.3L562.0 1539.4L559.2 1540.0L556.3 1539.8L553.4 1540.0L550.6 1539.4L548.1 1538.2L545.9 1536.6L543.3 1535.5L540.9 1534.2L539.6 1536.4L537.4 1537.7L535.8 1535.4L533.2 1534.3L531.3 1532.4L528.7 1531.4L526.6 1529.7L524.7 1527.8L522.5 1526.3L520.2 1524.4L518.1 1522.5L516.3 1520.1L514.2 1518.4L511.3 1517.8L508.9 1516.5L506.7 1514.8L504.0 1515.3L501.4 1514.1L498.8 1514.0L497.5 1511.7L495.3 1510.4L492.9 1509.4L490.7 1508.0L489.0 1506.0L486.5 1505.2L484.1 1503.9L483.0 1501.1L480.9 1499.5L478.6 1498.2L477.7 1495.9L477.6 1493.4L476.6 1491.3L476.0 1489.0L475.1 1486.7L476.7 1484.6L479.3 1484.0L481.2 1482.3L481.3 1479.6L480.2 1477.0L479.5 1474.4L476.8 1472.7L477.7 1470.2L479.1 1467.9L479.5 1465.3Z" fill="#eeeeee"/>
<path d="M594.5 1412.1L597.8 1412.8L600.7 1414.7L603.1 1415.4L605.0 1417.0L607.1 1418.2L609.2 1419.4L611.2 1420.9L614.1 1420.0L617.1 1420.9L620.0 1420.0L622.4 1421.6L625.4 1421.4L627.9 1422.6L628.9 1420.5L629.4 1418.1L630.5 1416.0L631.6 1414.0L633.2 1412.1L635.3 1413.5L637.7 1414.1L640.2 1414.7L642.2 1413.1L645.1 1413.6L647.2 1412.1L647.0 1412.5L648.8 1414.0L650.9 1415.1L652.6 1416.7L655.5 1418.3L658.6 1418.8L661.4 1420.7L663.9 1423.0L665.8 1424.6L668.1 1425.5L670.9 1427.2L673.7 1429.0L676.5 1430.4L678.3 1432.9L679.1 1436.2L680.8 1439.2L681.0 1441.5L680.2 1443.9L680.4 1446.2L680.0 1449.3L678.3 1451.8L676.5 1456.0L673.7 1459.6L674.8 1463.8L675.1 1466.6L672.8 1467.2L670.9 1468.7L668.4 1467.6L666.0 1466.2L664.2 1468.0L666.4 1469.9L668.1 1472.2L670.4 1473.4L672.0 1475.4L671.6 1478.4L668.1 1480.6L666.9 1482.7L666.0 1484.8L663.5 1485.6L661.1 1486.3L659.6 1483.3L656.9 1481.3L652.6 1482.7L650.4 1481.0L648.7 1478.7L647.0 1476.4L646.2 1474.3L645.3 1472.1L644.2 1470.1L642.4 1471.9L640.5 1473.6L639.5 1476.2L637.9 1478.2L635.8 1479.7L636.0 1482.3L637.2 1484.5L638.4 1486.7L636.5 1489.6L634.0 1492.0L632.1 1493.8L629.6 1494.6L627.5 1495.7L625.2 1496.4L622.4 1494.8L619.1 1494.6L618.3 1492.4L616.4 1490.7L615.6 1488.5L612.6 1488.0L610.2 1486.4L607.7 1485.0L605.3 1484.1L602.8 1484.8L600.4 1484.6L598.0 1484.1L595.6 1482.7L592.9 1481.8L590.1 1481.5L587.5 1480.7L584.7 1480.7L582.3 1479.0L579.6 1478.8L577.5 1476.8L575.1 1475.1L572.5 1473.6L572.0 1470.8L571.3 1468.1L569.9 1465.7L569.7 1462.7L570.8 1459.8L570.8 1456.9L569.5 1454.7L569.0 1452.2L568.2 1449.8L569.9 1447.2L572.1 1446.4L574.5 1446.3L576.7 1445.7L579.1 1446.1L581.3 1445.5L580.7 1442.3L579.6 1439.3L581.6 1436.5L584.0 1434.0L582.2 1431.9L579.7 1430.7L577.8 1428.8L577.4 1425.7L576.1 1422.9L575.2 1420.0L577.5 1419.2L579.5 1417.7L582.0 1417.2L584.3 1416.4L586.6 1415.6L589.4 1414.8L592.0 1413.6L594.5 1412.1Z" fill="#eeeeee"/>
<path d="M627.0 1371.2L629.3 1370.6L631.6 1370.2L634.0 1370.4L634.9 1372.8L635.6 1375.2L636.9 1377.4L636.3 1380.3L637.5 1382.5L638.4 1384.9L639.1 1387.4L641.3 1389.1L642.7 1391.3L643.7 1393.6L646.3 1392.9L649.0 1392.8L651.6 1391.9L654.3 1392.2L656.9 1393.0L659.5 1393.6L658.6 1398.0L655.8 1400.0L653.4 1402.4L654.1 1403.0L656.2 1404.2L658.2 1405.7L660.4 1406.9L662.5 1409.0L664.6 1411.1L666.7 1413.2L668.6 1415.0L670.9 1416.3L673.7 1413.9L676.5 1411.1L679.3 1410.3L682.2 1410.4L685.0 1409.7L687.8 1408.6L692.3 1408.3L693.4 1411.1L691.6 1413.2L690.2 1415.5L689.2 1418.1L688.3 1420.7L686.7 1423.0L687.8 1426.5L689.9 1427.9L692.0 1429.3L694.1 1430.8L696.6 1432.5L698.3 1435.0L700.5 1436.3L701.8 1438.5L701.4 1441.1L702.5 1443.4L703.4 1445.8L703.2 1448.3L704.9 1451.1L707.4 1453.2L709.3 1454.7L711.7 1455.3L712.8 1452.7L714.5 1450.4L715.9 1446.2L713.8 1444.8L713.2 1442.0L712.4 1439.2L714.9 1438.9L717.3 1437.8L720.0 1438.6L722.9 1438.5L725.6 1440.4L728.5 1442.0L729.7 1444.3L731.3 1446.2L730.3 1448.4L730.4 1450.9L729.9 1453.2L727.3 1454.6L724.3 1454.6L722.9 1458.2L720.0 1458.5L717.3 1457.4L713.1 1457.8L711.0 1460.3L712.2 1462.5L712.5 1464.9L713.1 1467.3L712.8 1470.1L712.4 1472.9L709.9 1473.8L708.2 1475.7L708.2 1478.6L707.1 1481.3L703.2 1483.4L699.7 1484.5L696.2 1482.7L694.5 1478.5L693.4 1476.3L691.3 1475.0L689.1 1473.1L686.4 1472.2L685.6 1469.7L683.6 1468.0L682.2 1466.6L679.3 1469.4L679.5 1472.0L678.3 1474.3L676.5 1477.8L673.0 1478.9L671.6 1478.4L672.0 1475.4L670.4 1473.4L668.1 1472.2L666.4 1469.9L664.2 1468.0L666.0 1466.2L668.4 1467.6L670.9 1468.7L672.8 1467.2L675.1 1466.6L674.8 1463.8L673.7 1459.6L676.5 1456.0L678.3 1451.8L680.0 1449.3L680.4 1446.2L680.2 1443.9L681.0 1441.5L680.8 1439.2L679.1 1436.2L678.3 1432.9L676.5 1430.4L673.7 1429.0L670.9 1427.2L668.1 1425.5L665.8 1424.6L663.9 1423.0L661.4 1420.7L658.6 1418.8L655.5 1418.3L652.6 1416.7L650.9 1415.1L648.8 1414.0L647.0 1412.5L647.2 1412.1L645.1 1413.6L642.2 1413.1L640.2 1414.7L637.7 1414.1L635.3 1413.5L633.2 1412.1L631.6 1414.0L630.5 1416.0L629.4 1418.1L628.9 1420.5L627.9 1422.6L625.4 1421.4L622.4 1421.6L620.0 1420.0L617.1 1420.9L614.1 1420.0L611.2 1420.9L609.2 1419.4L607.1 1418.2L605.0 1417.0L603.1 1415.4L600.7 1414.7L597.8 1412.8L594.5 1412.1L595.1 1409.7L594.7 1407.1L595.3 1404.7L596.3 1402.4L598.0 1400.5L598.0 1397.8L600.2 1396.1L600.7 1393.6L603.1 1392.3L605.2 1390.5L607.2 1388.6L609.2 1386.8L611.2 1384.9L613.6 1383.9L615.5 1381.8L618.3 1381.6L620.5 1380.0L622.7 1378.5L625.2 1377.8L625.3 1375.5L626.3 1373.3L627.0 1371.2Z" fill="#f0f8ff"/>
<path d="M694.1 1430.8L696.5 1429.7L699.0 1429.5L703.2 1429.0L705.2 1427.4L706.4 1425.1L706.7 1422.8L707.4 1420.5L707.4 1418.1L707.9 1415.3L710.0 1413.2L710.3 1410.4L713.8 1409.0L716.2 1411.1L715.2 1413.5L714.5 1416.0L713.4 1420.2L716.6 1422.7L720.8 1423.0L722.4 1425.0L724.0 1426.9L724.0 1429.5L723.6 1432.2L722.5 1435.2L722.9 1438.5L720.0 1438.6L717.3 1437.8L714.9 1438.9L712.4 1439.2L713.2 1442.0L713.8 1444.8L715.9 1446.2L714.5 1450.4L712.8 1452.7L711.7 1455.3L709.3 1454.7L707.4 1453.2L704.9 1451.1L703.2 1448.3L703.4 1445.8L702.5 1443.4L701.4 1441.1L701.8 1438.5L700.5 1436.3L698.3 1435.0L696.6 1432.5L694.1 1430.8Z" fill="#f0f8ff"/>
<path d="M724.0 1426.9L727.8 1428.3L730.6 1427.9L732.5 1425.7L733.4 1423.0L735.5 1421.2L736.9 1418.9L738.4 1416.7L740.2 1414.6L741.8 1412.2L744.0 1410.4L746.9 1410.0L749.8 1409.3L752.4 1407.9L750.9 1410.8L749.6 1413.9L748.7 1417.1L747.5 1420.2L747.1 1423.5L748.2 1426.5L747.3 1428.8L746.7 1431.1L746.8 1433.6L746.8 1436.6L745.4 1439.2L745.4 1441.5L745.2 1443.9L746.1 1446.2L746.1 1448.6L745.1 1450.9L745.0 1453.2L745.7 1456.0L745.4 1458.9L746.3 1461.2L748.2 1462.9L749.2 1466.1L749.1 1469.4L749.4 1472.2L750.9 1474.7L751.7 1478.4L749.4 1479.1L747.1 1479.5L744.7 1479.1L741.2 1480.5L742.6 1484.7L740.5 1486.1L739.1 1488.2L738.1 1490.4L737.0 1492.4L733.4 1493.8L729.9 1491.0L727.2 1489.5L724.3 1488.2L722.5 1486.7L720.2 1485.8L718.7 1484.0L715.8 1483.8L713.1 1483.3L710.0 1482.5L707.1 1481.3L708.2 1478.6L708.2 1475.7L709.9 1473.8L712.4 1472.9L712.8 1470.1L713.1 1467.3L712.5 1464.9L712.2 1462.5L711.0 1460.3L713.1 1457.8L717.3 1457.4L720.0 1458.5L722.9 1458.2L724.3 1454.6L727.3 1454.6L729.9 1453.2L730.4 1450.9L730.3 1448.4L731.3 1446.2L729.7 1444.3L728.5 1442.0L725.6 1440.4L722.9 1438.5L722.5 1435.2L723.6 1432.2L724.0 1429.5L724.0 1426.9Z" fill="#faebd7"/>
<path d="M777.7 1395.7L777.5 1398.4L777.0 1401.1L778.2 1403.3L779.8 1405.3L778.9 1407.5L779.3 1410.1L778.4 1412.3L779.8 1414.5L780.3 1416.8L780.5 1419.3L780.3 1421.7L780.0 1424.0L779.8 1426.4L779.2 1428.7L778.0 1430.9L777.7 1433.4L776.8 1436.5L774.9 1439.0L775.0 1441.9L774.2 1444.6L773.0 1446.9L771.4 1448.8L768.5 1450.4L766.5 1453.1L764.3 1455.0L761.7 1456.3L759.4 1458.0L757.1 1459.2L754.8 1460.5L752.4 1461.5L748.2 1462.9L746.3 1461.2L745.4 1458.9L745.7 1456.0L745.0 1453.2L745.1 1450.9L746.1 1448.6L746.1 1446.2L745.2 1443.9L745.4 1441.5L745.4 1439.2L746.8 1436.6L746.8 1433.6L746.7 1431.1L747.3 1428.8L748.2 1426.5L747.1 1423.5L747.5 1420.2L748.7 1417.1L749.6 1413.9L750.9 1410.8L752.4 1407.9L755.9 1407.4L758.2 1405.5L760.1 1403.2L762.1 1400.8L765.1 1399.7L767.9 1399.3L770.7 1398.3L773.2 1397.9L775.1 1395.9L777.7 1395.7Z" fill="#f0f8ff"/>
<path d="M774.2 1444.6L776.6 1445.5L779.1 1445.3L781.9 1446.1L784.7 1446.0L787.9 1445.9L789.6 1448.2L788.7 1450.8L787.0 1454.4L784.1 1457.9L786.4 1460.2L789.3 1461.4L792.0 1462.0L794.6 1462.7L797.4 1465.7L796.7 1469.9L792.5 1471.3L791.0 1473.4L789.6 1475.5L788.7 1478.0L786.8 1479.8L786.8 1482.6L787.5 1485.4L789.9 1486.8L791.7 1488.9L791.9 1491.4L792.5 1493.8L790.4 1495.3L788.9 1497.3L786.9 1496.1L784.7 1495.2L782.6 1493.8L780.5 1492.4L777.8 1491.4L774.9 1491.0L772.4 1490.2L770.7 1488.2L767.9 1487.3L765.1 1486.8L762.1 1486.0L759.4 1484.7L756.9 1483.4L755.2 1481.2L751.7 1478.4L750.9 1474.7L749.4 1472.2L749.1 1469.4L749.2 1466.1L748.2 1462.9L752.4 1461.5L754.8 1460.5L757.1 1459.2L759.4 1458.0L761.7 1456.3L764.3 1455.0L766.5 1453.1L768.5 1450.4L771.4 1448.8L773.0 1446.9L774.2 1444.6Z" fill="#faebd7"/>
<path d="M787.9 1445.9L787.9 1443.4L787.6 1440.9L789.3 1438.5L791.7 1436.2L793.9 1434.0L795.8 1431.5L799.3 1428.6L801.4 1427.2L804.0 1426.8L807.5 1424.5L809.8 1422.7L812.0 1423.8L814.5 1423.9L816.8 1423.6L819.2 1426.8L818.3 1429.8L818.9 1432.1L820.9 1433.9L825.0 1432.7L826.8 1430.4L828.5 1428.6L830.8 1427.4L833.2 1426.8L835.7 1428.3L838.5 1429.2L841.4 1430.0L844.4 1430.4L848.5 1431.5L849.2 1433.8L848.7 1436.2L845.5 1437.1L842.0 1439.1L839.1 1440.3L835.0 1442.1L833.2 1444.4L830.6 1445.0L828.5 1446.7L826.4 1449.1L825.0 1452.0L823.0 1454.1L821.5 1456.7L819.8 1459.0L816.8 1462.0L813.3 1464.9L811.0 1464.3L808.1 1463.7L805.1 1464.3L801.6 1462.0L797.8 1460.8L794.6 1462.7L792.0 1462.0L789.3 1461.4L786.4 1460.2L784.1 1457.9L787.0 1454.4L788.7 1450.8L789.6 1448.2L787.9 1445.9Z" fill="#e6aa54"/>
<path d="M819.8 1459.0L822.7 1462.0L825.5 1464.3L829.0 1467.1L830.2 1469.8L830.6 1472.8L831.8 1475.5L832.6 1478.1L834.2 1480.2L835.3 1482.6L836.7 1484.7L837.9 1487.0L839.5 1488.9L841.1 1490.8L843.0 1492.4L840.7 1492.9L839.0 1494.6L836.7 1495.2L835.2 1497.1L834.6 1499.4L834.6 1501.5L832.2 1502.6L829.7 1503.6L825.5 1502.2L824.1 1502.2L822.0 1499.4L820.2 1497.7L817.7 1497.3L815.6 1495.2L814.2 1492.4L815.6 1488.9L819.1 1486.8L817.7 1483.3L814.2 1481.2L813.5 1477.0L810.7 1475.5L809.3 1471.3L806.7 1470.1L805.1 1467.8L801.6 1465.7L799.1 1463.7L797.8 1460.8L801.6 1462.0L805.1 1464.3L808.1 1463.7L811.0 1464.3L813.3 1464.9L816.8 1462.0L819.8 1459.0Z" fill="#ee82ee"/>
<path d="M843.0 1492.4L843.3 1495.0L844.4 1497.3L844.0 1500.1L842.3 1502.2L840.4 1503.7L838.1 1504.4L834.6 1501.5L834.6 1499.4L835.2 1497.1L836.7 1495.2L839.0 1494.6L840.7 1492.9L843.0 1492.4Z" fill="#87d9ee"/>
<path d="M838.1 1504.4L835.3 1507.2L837.3 1509.7L839.5 1512.1L842.2 1513.1L844.4 1514.9L844.3 1517.8L843.0 1520.5L842.6 1522.9L843.7 1525.2L843.7 1527.5L842.6 1530.7L840.2 1533.2L839.2 1535.9L838.8 1538.8L836.8 1541.0L834.6 1543.0L833.1 1545.0L831.1 1546.5L827.6 1543.7L825.0 1543.6L822.7 1544.4L821.8 1541.9L819.9 1540.2L817.9 1538.7L817.3 1536.2L815.6 1534.6L814.9 1531.6L813.5 1528.9L812.0 1526.9L810.7 1524.7L812.9 1523.0L814.9 1521.2L816.4 1518.5L818.4 1516.3L818.0 1513.9L817.7 1511.4L819.7 1509.9L821.3 1507.9L822.1 1504.8L824.1 1502.2L825.5 1502.2L829.7 1503.6L832.2 1502.6L834.6 1501.5L838.1 1504.4Z" fill="#87d9ee"/>
<path d="M797.8 1460.8L799.1 1463.7L801.6 1465.7L805.1 1467.8L806.7 1470.1L809.3 1471.3L810.7 1475.5L813.5 1477.0L814.2 1481.2L817.7 1483.3L819.1 1486.8L815.6 1488.9L814.2 1492.4L815.6 1495.2L817.7 1497.3L820.2 1497.7L822.0 1499.4L824.1 1502.2L822.1 1504.8L821.3 1507.9L819.7 1509.9L817.7 1511.4L818.0 1513.9L818.4 1516.3L816.4 1518.5L814.9 1521.2L812.9 1523.0L810.7 1524.7L808.6 1522.7L805.8 1521.9L803.3 1520.6L801.6 1518.4L797.4 1517.0L793.9 1518.4L793.6 1515.1L792.5 1512.1L792.1 1508.8L791.0 1505.8L793.2 1502.2L790.3 1499.4L788.9 1497.3L790.4 1495.3L792.5 1493.8L791.9 1491.4L791.7 1488.9L789.9 1486.8L787.5 1485.4L786.8 1482.6L786.8 1479.8L788.7 1478.0L789.6 1475.5L791.0 1473.4L792.5 1471.3L796.7 1469.9L797.4 1465.7L794.6 1462.7L797.8 1460.8Z" fill="#f0f8ff"/>
<path d="M737.0 1492.4L738.1 1490.4L739.1 1488.2L740.5 1486.1L742.6 1484.7L741.2 1480.5L744.7 1479.1L747.1 1479.5L749.4 1479.1L751.7 1478.4L755.2 1481.2L756.9 1483.4L759.4 1484.7L762.1 1486.0L765.1 1486.8L767.9 1487.3L770.7 1488.2L772.4 1490.2L774.9 1491.0L777.8 1491.4L780.5 1492.4L782.6 1493.8L784.7 1495.2L786.9 1496.1L788.9 1497.3L790.3 1499.4L793.2 1502.2L791.0 1505.8L792.1 1508.8L792.5 1512.1L793.6 1515.1L793.9 1518.4L791.5 1519.6L788.9 1520.5L786.3 1521.8L783.3 1521.9L781.0 1523.6L778.4 1524.7L774.9 1525.4L773.6 1522.9L772.1 1520.5L769.3 1517.0L766.9 1517.5L765.1 1519.1L762.3 1517.9L759.4 1517.0L756.5 1516.3L753.8 1514.9L749.6 1514.2L745.4 1515.6L743.8 1517.5L741.9 1519.1L738.4 1521.9L737.0 1526.1L735.5 1523.3L734.5 1520.8L733.4 1518.4L729.9 1515.6L730.6 1513.1L731.3 1510.7L733.5 1509.3L735.5 1507.9L739.8 1506.5L740.9 1503.8L743.3 1502.2L742.3 1499.4L741.2 1496.6L739.3 1494.3L737.0 1492.4Z" fill="#f0f8ff"/>
<path d="M737.0 1526.1L738.4 1521.9L741.9 1519.1L743.8 1517.5L745.4 1515.6L749.6 1514.2L753.8 1514.9L756.5 1516.3L759.4 1517.0L762.3 1517.9L765.1 1519.1L766.9 1517.5L769.3 1517.0L772.1 1520.5L773.6 1522.9L774.9 1525.4L775.9 1527.9L777.0 1530.3L775.5 1533.0L774.9 1536.0L775.4 1538.8L776.3 1541.6L774.6 1544.1L774.2 1547.2L775.6 1550.0L777.0 1552.8L776.5 1555.7L775.6 1558.4L775.1 1560.9L775.5 1563.2L776.3 1565.5L777.0 1567.1L773.9 1566.6L770.7 1566.9L768.0 1566.4L765.4 1567.5L762.3 1570.1L760.8 1573.9L758.3 1573.7L755.9 1574.3L753.3 1572.2L752.8 1568.0L753.4 1565.3L754.4 1562.7L752.4 1561.0L751.7 1558.5L748.6 1556.4L746.3 1557.0L744.4 1558.5L740.1 1558.5L741.2 1555.3L739.1 1552.2L736.5 1551.1L734.3 1548.0L737.0 1544.8L736.4 1542.2L735.9 1539.5L734.3 1535.3L735.5 1531.0L735.9 1528.5L737.0 1526.1Z" fill="#f0f8ff"/>
<path d="M774.9 1525.4L778.4 1524.7L781.0 1523.6L783.3 1521.9L786.3 1521.8L788.9 1520.5L791.5 1519.6L793.9 1518.4L797.4 1517.0L801.6 1518.4L803.3 1520.6L805.8 1521.9L808.6 1522.7L810.7 1524.7L812.0 1526.9L813.5 1528.9L814.9 1531.6L815.6 1534.6L817.3 1536.2L817.9 1538.7L819.9 1540.2L817.0 1540.6L814.2 1541.6L811.6 1543.3L808.6 1544.4L806.5 1546.5L804.4 1548.6L802.6 1551.0L800.2 1552.8L798.9 1555.7L797.4 1558.4L796.2 1561.4L794.6 1564.1L793.5 1566.8L793.2 1569.7L791.7 1573.9L789.7 1573.3L787.0 1573.4L784.4 1574.3L781.8 1574.9L779.1 1575.4L781.2 1572.2L782.3 1568.0L779.8 1566.8L777.0 1567.1L776.3 1565.5L775.5 1563.2L775.1 1560.9L775.6 1558.4L776.5 1555.7L777.0 1552.8L775.6 1550.0L774.2 1547.2L774.6 1544.1L776.3 1541.6L775.4 1538.8L774.9 1536.0L775.5 1533.0L777.0 1530.3L775.9 1527.9L774.9 1525.4Z" fill="#f0f8ff"/>
<path d="M819.9 1540.2L821.8 1541.9L822.7 1544.4L825.0 1543.6L827.6 1543.7L831.1 1546.5L830.1 1548.6L829.5 1550.8L828.3 1552.8L827.3 1555.2L826.5 1557.5L825.5 1559.9L824.6 1562.5L822.0 1564.1L821.3 1566.9L819.3 1568.3L818.7 1570.8L817.0 1572.5L815.3 1574.1L814.6 1576.5L812.8 1578.1L810.3 1579.8L808.6 1582.3L806.1 1584.1L804.4 1586.5L802.9 1584.5L801.6 1582.3L799.6 1580.6L798.8 1578.1L797.0 1576.4L794.6 1576.0L791.7 1573.9L793.2 1569.7L793.5 1566.8L794.6 1564.1L796.2 1561.4L797.4 1558.4L798.9 1555.7L800.2 1552.8L802.6 1551.0L804.4 1548.6L806.5 1546.5L808.6 1544.4L811.6 1543.3L814.2 1541.6L817.0 1540.6L819.9 1540.2Z" fill="#f0f8ff"/>
<path d="M760.8 1573.9L762.3 1570.1L765.4 1567.5L768.0 1566.4L770.7 1566.9L773.9 1566.6L777.0 1567.1L779.8 1566.8L782.3 1568.0L781.2 1572.2L779.1 1575.4L781.8 1574.9L784.4 1574.3L787.0 1573.4L789.7 1573.3L791.7 1573.9L794.6 1576.0L797.0 1576.4L798.8 1578.1L799.6 1580.6L801.6 1582.3L802.9 1584.5L804.4 1586.5L802.1 1587.9L800.7 1590.0L799.0 1591.9L797.2 1593.5L794.7 1593.8L792.8 1595.4L790.6 1596.6L788.2 1596.7L785.8 1597.1L783.5 1596.7L781.1 1596.9L778.8 1597.1L775.3 1599.8L774.2 1601.9L773.5 1604.2L771.6 1605.8L769.1 1605.9L766.5 1602.4L763.0 1604.2L759.4 1606.8L757.6 1608.7L755.1 1609.4L753.1 1610.8L750.7 1611.2L748.6 1613.5L746.3 1615.6L745.5 1618.2L745.4 1620.9L746.1 1623.1L747.1 1625.3L742.8 1625.3L742.2 1622.9L741.0 1620.9L740.2 1618.3L740.1 1615.6L740.1 1611.2L742.2 1608.0L745.4 1604.9L746.3 1602.5L748.0 1600.7L750.3 1598.9L751.7 1596.4L752.5 1593.7L753.8 1591.2L754.4 1588.8L755.9 1587.0L756.4 1584.1L758.1 1581.7L759.6 1579.3L760.2 1576.4L760.8 1573.9Z" fill="#a0e8a4"/>
<path d="M760.8 1573.9L758.3 1573.7L755.9 1574.3L753.3 1572.2L752.8 1568.0L753.4 1565.3L754.4 1562.7L752.4 1561.0L751.7 1558.5L748.6 1556.4L746.3 1557.0L744.4 1558.5L740.1 1558.5L737.0 1561.7L733.8 1564.8L731.3 1565.9L729.6 1568.0L726.4 1565.9L723.3 1568.5L721.1 1567.0L719.1 1565.4L716.8 1567.5L714.8 1570.1L712.8 1571.4L710.6 1572.2L708.3 1572.8L706.4 1574.3L702.2 1573.3L699.9 1574.3L697.6 1575.3L700.1 1577.5L701.6 1579.6L703.3 1581.7L707.5 1582.7L709.6 1584.8L709.1 1588.0L706.4 1589.6L704.3 1592.2L707.5 1594.3L711.7 1595.4L714.3 1598.5L713.3 1601.7L715.4 1604.9L716.9 1606.8L719.1 1608.0L722.8 1610.1L726.4 1609.6L730.7 1611.2L734.9 1610.1L737.5 1610.5L740.1 1611.2L742.2 1608.0L745.4 1604.9L746.3 1602.5L748.0 1600.7L750.3 1598.9L751.7 1596.4L752.5 1593.7L753.8 1591.2L754.4 1588.8L755.9 1587.0L756.4 1584.1L758.1 1581.7L759.6 1579.3L760.2 1576.4L760.8 1573.9Z" fill="#f0f8ff"/>
<path d="M702.2 1538.7L704.3 1540.1L706.9 1539.4L709.6 1539.0L710.1 1536.4L706.4 1534.3L708.0 1532.4L709.6 1530.6L711.7 1529.0L714.8 1530.0L717.3 1528.9L719.1 1526.9L722.8 1525.3L725.4 1526.9L728.5 1530.0L730.2 1531.8L730.7 1534.3L734.3 1535.3L735.9 1539.5L736.4 1542.2L737.0 1544.8L734.3 1548.0L736.5 1551.1L739.1 1552.2L741.2 1555.3L740.1 1558.5L737.0 1561.7L733.8 1564.8L731.3 1565.9L729.6 1568.0L726.4 1565.9L723.3 1568.5L721.1 1567.0L719.1 1565.4L716.8 1567.5L714.8 1570.1L712.8 1571.4L710.6 1572.2L708.3 1572.8L706.4 1574.3L702.2 1573.3L699.9 1574.3L697.6 1575.3L695.9 1573.3L697.3 1570.8L698.0 1568.0L696.6 1565.7L694.8 1563.8L695.1 1561.1L695.9 1558.5L694.8 1555.9L693.8 1553.2L690.1 1552.2L690.1 1549.4L689.0 1546.9L691.7 1544.8L695.9 1543.7L698.0 1542.7L700.1 1541.6L702.2 1538.7Z" fill="#f0f8ff"/>
<path d="M729.9 1491.0L729.4 1494.0L727.8 1496.6L726.0 1499.4L724.3 1502.2L722.6 1504.8L720.8 1507.2L719.1 1509.0L718.7 1511.4L716.0 1510.0L713.1 1510.0L710.6 1509.7L708.3 1510.3L706.0 1511.4L704.3 1513.4L703.8 1516.1L702.5 1518.4L704.1 1521.4L706.7 1523.3L709.2 1524.6L711.7 1526.1L710.9 1528.5L709.6 1530.6L711.7 1529.0L714.8 1530.0L717.3 1528.9L719.1 1526.9L722.8 1525.3L725.4 1526.9L728.5 1530.0L730.2 1531.8L730.7 1534.3L734.3 1535.3L735.5 1531.0L735.9 1528.5L737.0 1526.1L735.5 1523.3L734.5 1520.8L733.4 1518.4L729.9 1515.6L730.6 1513.1L731.3 1510.7L733.5 1509.3L735.5 1507.9L739.8 1506.5L740.9 1503.8L743.3 1502.2L742.3 1499.4L741.2 1496.6L739.3 1494.3L737.0 1492.4L733.4 1493.8L729.9 1491.0Z" fill="#f0f8ff"/>
<path d="M638.4 1486.7L637.2 1484.5L636.0 1482.3L635.8 1479.7L637.9 1478.2L639.5 1476.2L640.5 1473.6L642.4 1471.9L644.2 1470.1L645.3 1472.1L646.2 1474.3L647.0 1476.4L648.7 1478.7L650.4 1481.0L652.6 1482.7L656.9 1481.3L659.6 1483.3L661.1 1486.3L663.5 1485.6L666.0 1484.8L666.9 1482.7L668.1 1480.6L671.6 1478.4L673.0 1478.9L676.5 1477.8L678.3 1474.3L679.5 1472.0L679.3 1469.4L682.2 1466.6L683.6 1468.0L685.6 1469.7L686.4 1472.2L689.1 1473.1L691.3 1475.0L693.4 1476.3L694.5 1478.5L696.2 1482.7L699.7 1484.5L703.2 1483.4L707.1 1481.3L710.0 1482.5L713.1 1483.3L715.8 1483.8L718.7 1484.0L720.2 1485.8L722.5 1486.7L724.3 1488.2L727.2 1489.5L729.9 1491.0L729.4 1494.0L727.8 1496.6L726.0 1499.4L724.3 1502.2L722.6 1504.8L720.8 1507.2L719.1 1509.0L718.7 1511.4L716.0 1510.0L713.1 1510.0L710.6 1509.7L708.3 1510.3L706.0 1511.4L704.3 1513.4L703.8 1516.1L702.5 1518.4L704.1 1521.4L706.7 1523.3L709.2 1524.6L711.7 1526.1L710.9 1528.5L709.6 1530.6L708.0 1532.4L706.4 1534.3L710.1 1536.4L709.6 1539.0L706.9 1539.4L704.3 1540.1L702.2 1538.7L698.5 1539.5L695.4 1536.4L694.0 1533.6L693.8 1530.6L691.7 1531.1L689.9 1533.0L688.6 1535.1L687.4 1537.4L685.4 1539.5L684.4 1542.2L683.2 1544.8L683.4 1547.7L682.9 1550.5L682.2 1553.2L680.7 1555.4L679.0 1557.4L676.3 1558.0L673.7 1559.0L672.6 1556.8L670.6 1555.3L669.7 1552.9L667.7 1551.2L666.4 1549.0L664.7 1546.7L663.6 1544.1L662.2 1541.6L661.1 1539.0L658.8 1537.0L657.9 1534.3L656.1 1531.8L654.8 1529.0L651.6 1532.2L651.2 1529.1L649.8 1526.3L649.8 1526.3L650.0 1523.8L649.5 1521.4L648.6 1519.1L649.0 1516.6L648.7 1514.0L647.5 1511.4L648.3 1508.6L646.8 1506.2L647.2 1503.4L646.9 1500.8L645.8 1498.5L645.2 1495.9L643.7 1493.8L642.6 1490.9L640.1 1489.1L638.4 1486.7Z" fill="#faebd7"/>
<path d="M649.8 1526.3L646.3 1528.9L645.3 1531.2L644.7 1533.6L643.7 1535.8L644.8 1538.1L644.8 1540.6L645.1 1543.8L645.8 1546.9L647.3 1549.9L647.4 1553.2L645.8 1556.2L645.3 1559.6L644.3 1561.9L642.7 1563.8L640.6 1566.9L638.5 1569.8L637.9 1573.3L636.9 1577.5L639.0 1580.6L637.4 1583.8L641.1 1584.8L643.6 1584.8L645.8 1585.9L647.6 1587.7L648.5 1590.1L649.7 1592.5L651.6 1594.3L652.1 1597.0L652.7 1599.6L651.6 1603.8L653.9 1604.6L655.8 1605.9L657.7 1607.8L659.0 1610.1L661.6 1610.7L664.3 1611.2L668.0 1610.1L668.5 1613.8L672.2 1614.9L672.3 1612.0L672.7 1609.1L671.6 1606.6L671.6 1603.8L672.7 1600.7L676.9 1599.6L679.4 1598.2L682.2 1597.5L685.3 1598.5L687.6 1597.8L689.6 1596.4L693.8 1595.4L698.0 1593.8L701.1 1591.2L704.3 1592.2L706.4 1589.6L709.1 1588.0L709.6 1584.8L707.5 1582.7L703.3 1581.7L701.6 1579.6L700.1 1577.5L697.6 1575.3L695.9 1573.3L697.3 1570.8L698.0 1568.0L696.6 1565.7L694.8 1563.8L695.1 1561.1L695.9 1558.5L694.8 1555.9L693.8 1553.2L690.1 1552.2L690.1 1549.4L689.0 1546.9L691.7 1544.8L695.9 1543.7L698.0 1542.7L700.1 1541.6L702.2 1538.7L698.5 1539.5L695.4 1536.4L694.0 1533.6L693.8 1530.6L691.7 1531.1L689.9 1533.0L688.6 1535.1L687.4 1537.4L685.4 1539.5L684.4 1542.2L683.2 1544.8L683.4 1547.7L682.9 1550.5L682.2 1553.2L680.7 1555.4L679.0 1557.4L676.3 1558.0L673.7 1559.0L672.6 1556.8L670.6 1555.3L669.7 1552.9L667.7 1551.2L666.4 1549.0L664.7 1546.7L663.6 1544.1L662.2 1541.6L661.1 1539.0L658.8 1537.0L657.9 1534.3L656.1 1531.8L654.8 1529.0L651.6 1532.2L651.2 1529.1L649.8 1526.3Z" fill="#f0f8ff"/>
<path d="M777.7 1395.7L776.2 1391.8L776.0 1388.9L775.4 1386.2L778.5 1384.6L779.1 1381.6L780.9 1379.1L783.3 1381.5L785.9 1381.2L788.5 1380.4L791.2 1380.7L793.5 1379.8L795.9 1379.1L798.0 1377.8L799.9 1376.1L802.2 1375.2L804.4 1373.9L807.0 1373.6L808.5 1376.0L810.9 1377.5L811.0 1379.9L811.7 1382.3L812.8 1384.7L814.9 1386.2L816.6 1388.0L817.3 1390.3L818.0 1392.5L821.2 1394.1L822.1 1397.0L823.6 1399.7L825.0 1401.7L822.7 1404.6L820.9 1408.1L819.8 1411.0L818.6 1414.5L815.7 1418.1L812.2 1421.0L809.8 1422.7L807.5 1424.5L804.0 1426.8L801.4 1427.2L799.3 1428.6L795.8 1431.5L793.9 1434.0L791.7 1436.2L789.3 1438.5L787.6 1440.9L787.9 1443.4L787.9 1445.9L784.7 1446.0L781.9 1446.1L779.1 1445.3L776.6 1445.5L774.2 1444.6L775.0 1441.9L774.9 1439.0L776.8 1436.5L777.7 1433.4L778.0 1430.9L779.2 1428.7L779.8 1426.4L780.0 1424.0L780.3 1421.7L780.5 1419.3L780.3 1416.8L779.8 1414.5L778.4 1412.3L779.3 1410.1L778.9 1407.5L779.8 1405.3L778.2 1403.3L777.0 1401.1L777.5 1398.4L777.7 1395.7Z" fill="#f0f8ff"/>
<path d="M818.0 1392.5L819.8 1390.7L820.9 1388.5L822.0 1386.2L822.7 1383.6L824.4 1381.5L823.2 1378.7L822.0 1375.9L825.9 1376.7L829.3 1376.2L832.3 1374.4L834.7 1373.9L836.2 1371.6L838.6 1371.2L841.3 1371.6L843.8 1370.0L846.5 1370.4L849.3 1370.6L851.8 1369.6L854.4 1368.8L857.4 1367.2L859.9 1364.9L861.4 1367.1L864.2 1368.0L865.5 1370.4L868.6 1368.0L868.5 1370.5L870.3 1372.3L870.7 1374.6L871.1 1376.9L871.8 1379.1L872.5 1382.0L873.8 1384.8L874.2 1387.8L875.0 1391.0L872.8 1392.8L870.9 1394.9L868.5 1396.2L866.0 1397.6L863.3 1398.4L861.3 1400.5L858.8 1401.7L856.7 1403.4L854.1 1404.6L852.0 1406.3L850.4 1408.4L847.9 1409.3L846.2 1411.2L843.8 1411.9L840.3 1414.0L836.7 1415.7L837.3 1413.4L839.1 1410.4L838.5 1406.9L840.3 1403.4L842.6 1399.9L844.9 1397.6L845.5 1394.6L842.6 1391.7L840.3 1392.6L837.9 1392.0L834.4 1394.1L832.1 1397.0L828.5 1399.3L825.0 1401.7L823.6 1399.7L822.1 1397.0L821.2 1394.1L818.0 1392.5Z" fill="#faebd7"/>
<path d="M859.9 1364.9L856.8 1363.3L856.4 1360.5L856.0 1357.8L855.5 1355.4L853.6 1353.8L851.2 1353.5L848.9 1353.0L847.4 1351.0L845.7 1349.1L845.8 1346.4L846.3 1343.8L846.5 1341.2L844.5 1339.7L843.1 1337.7L841.8 1335.6L845.7 1334.1L848.0 1332.8L850.7 1332.5L852.8 1330.9L855.2 1331.7L858.1 1332.0L860.7 1333.3L861.6 1335.7L863.3 1337.8L863.9 1340.4L866.1 1339.2L868.5 1339.1L871.0 1339.5L873.4 1338.8L875.1 1340.7L877.2 1342.1L879.7 1342.8L882.8 1343.2L885.2 1345.1L886.3 1347.5L888.4 1349.1L889.8 1351.2L891.9 1352.5L893.9 1353.8L896.0 1352.0L898.7 1351.4L899.2 1354.0L900.7 1356.0L902.3 1357.9L903.4 1360.1L905.6 1361.4L908.1 1361.7L911.3 1360.8L914.5 1360.1L916.8 1361.3L918.9 1362.9L921.6 1363.3L922.4 1366.5L919.8 1368.6L917.6 1371.2L918.4 1374.4L916.2 1373.2L913.5 1373.2L911.3 1372.0L909.6 1374.0L907.2 1374.8L905.0 1375.9L903.1 1378.8L900.2 1380.7L898.8 1383.2L897.1 1385.4L894.4 1384.9L892.3 1383.1L889.6 1382.3L886.8 1382.3L884.0 1384.2L882.1 1387.0L879.4 1387.8L877.5 1389.9L875.0 1391.0L874.2 1387.8L873.8 1384.8L872.5 1382.0L871.8 1379.1L871.1 1376.9L870.7 1374.6L870.3 1372.3L868.5 1370.5L868.6 1368.0L865.5 1370.4L864.2 1368.0L861.4 1367.1L859.9 1364.9Z" fill="#f0f8ff"/>
<path d="M839.7 1251.1L842.1 1251.1L844.2 1249.4L846.6 1249.2L848.9 1248.8L851.2 1248.0L853.6 1248.1L856.0 1247.9L858.4 1249.0L861.1 1249.0L863.7 1249.5L866.0 1250.9L868.6 1251.1L870.9 1252.0L872.8 1253.7L875.4 1254.1L877.3 1255.8L878.9 1257.5L879.3 1260.0L880.7 1261.8L882.1 1263.7L882.8 1266.3L883.3 1268.9L884.5 1271.3L885.2 1273.8L886.0 1276.4L887.8 1278.4L888.3 1281.0L890.0 1283.2L891.2 1285.5L891.5 1288.2L893.8 1289.0L895.5 1290.8L898.0 1291.0L899.9 1292.5L901.8 1293.7L903.8 1295.2L906.1 1296.0L908.2 1297.1L910.1 1298.7L912.3 1299.8L914.5 1300.9L915.4 1303.5L917.6 1305.3L918.4 1308.0L918.9 1310.7L919.2 1313.5L921.5 1314.5L924.1 1313.6L926.5 1313.9L928.7 1315.1L931.1 1313.5L933.8 1312.5L936.6 1311.9L939.1 1310.9L941.7 1310.0L944.0 1308.5L946.9 1308.6L949.2 1307.2L952.1 1307.2L954.8 1306.4L953.2 1308.9L952.6 1311.9L950.8 1314.3L950.5 1316.8L949.2 1319.0L947.7 1321.2L947.6 1323.8L946.8 1326.1L946.1 1328.5L945.1 1331.0L944.4 1333.5L943.8 1336.1L942.8 1338.6L942.1 1341.2L939.9 1342.3L938.4 1344.3L936.6 1345.9L933.8 1345.7L931.3 1344.6L928.7 1343.5L926.3 1345.4L923.3 1345.8L920.8 1347.5L921.5 1349.8L922.3 1352.1L922.5 1354.5L922.4 1357.0L922.5 1360.2L921.6 1363.3L918.9 1362.9L916.8 1361.3L914.5 1360.1L911.3 1360.8L908.1 1361.7L905.6 1361.4L903.4 1360.1L902.3 1357.9L900.7 1356.0L899.2 1354.0L898.7 1351.4L896.0 1352.0L893.9 1353.8L891.9 1352.5L889.8 1351.2L888.4 1349.1L886.3 1347.5L885.2 1345.1L882.8 1343.2L879.7 1342.8L877.2 1342.1L875.1 1340.7L873.4 1338.8L871.0 1339.5L868.5 1339.1L866.1 1339.2L863.9 1340.4L863.3 1337.8L861.6 1335.7L860.7 1333.3L858.1 1332.0L855.2 1331.7L852.8 1330.9L853.8 1328.6L854.4 1326.2L852.0 1324.2L849.7 1322.2L848.7 1319.9L848.1 1317.5L850.0 1315.7L852.8 1314.9L854.5 1312.8L856.0 1310.5L858.7 1309.7L860.7 1308.0L862.5 1309.6L864.7 1310.3L865.5 1306.4L867.3 1304.4L868.0 1301.7L869.0 1299.3L870.2 1296.9L871.3 1294.8L871.9 1292.6L871.8 1290.2L872.3 1287.9L873.4 1285.8L874.6 1283.7L876.4 1281.8L877.6 1279.7L878.1 1277.1L875.5 1275.5L874.3 1272.5L871.8 1270.8L869.8 1272.1L867.8 1273.3L865.5 1274.0L862.7 1273.6L859.9 1274.2L857.2 1274.1L854.4 1274.0L852.3 1272.0L849.7 1270.8L850.2 1268.4L851.2 1266.1L848.3 1264.3L846.5 1261.3L844.3 1260.7L842.0 1260.3L839.9 1259.2L837.8 1258.2L838.2 1255.7L838.6 1253.3L839.7 1251.1Z" fill="#f0f8ff"/>
<path d="M634.0 1370.4L636.5 1370.1L638.8 1371.2L641.3 1370.7L643.7 1371.3L646.1 1371.6L648.5 1372.0L651.0 1371.9L653.4 1372.6L655.8 1372.6L658.3 1372.5L660.7 1372.9L663.2 1372.7L665.6 1373.2L668.1 1372.9L670.6 1372.9L673.0 1373.3L675.5 1372.3L677.9 1372.9L680.4 1374.4L683.3 1374.2L686.0 1374.7L688.5 1376.1L691.2 1376.6L693.5 1378.5L696.6 1378.1L699.0 1379.6L699.5 1379.1L701.6 1378.1L704.1 1378.5L706.3 1377.7L708.5 1377.0L710.6 1375.9L713.4 1376.0L716.0 1374.5L718.9 1374.9L721.6 1374.4L724.5 1374.5L727.1 1373.4L729.8 1372.7L732.7 1372.8L734.9 1371.6L737.5 1372.3L739.7 1370.9L742.2 1371.2L744.3 1369.7L746.1 1367.6L748.5 1366.5L750.8 1365.2L752.3 1362.8L754.8 1361.7L756.6 1360.0L758.8 1358.6L757.8 1356.4L756.6 1354.4L755.6 1352.2L756.9 1350.0L757.2 1347.5L758.8 1345.7L761.1 1345.1L763.5 1345.3L765.9 1345.9L768.2 1346.2L770.6 1346.6L773.0 1345.5L775.4 1345.9L777.6 1344.5L779.3 1342.4L781.7 1341.2L784.1 1340.0L785.5 1337.4L788.0 1336.4L790.5 1335.9L792.8 1334.9L794.9 1333.4L797.5 1333.3L799.4 1331.4L801.3 1329.6L803.8 1328.5L806.3 1327.7L808.8 1327.4L811.3 1326.6L814.0 1326.8L816.5 1326.2L819.1 1325.8L821.7 1326.7L824.4 1326.2L825.9 1322.2L823.1 1320.3L821.2 1317.5L818.8 1317.1L816.9 1315.6L814.9 1314.3L812.8 1312.7L809.8 1312.9L807.8 1311.1L805.0 1312.3L802.1 1313.0L799.1 1313.5L795.8 1313.7L792.8 1312.7L790.4 1309.6L791.8 1307.6L791.9 1305.0L793.0 1302.9L794.3 1300.9L794.8 1298.0L796.1 1295.4L798.2 1293.3L799.1 1290.6L802.2 1290.7L805.0 1291.8L807.8 1293.0L809.7 1291.2L812.3 1290.6L814.4 1289.2L817.1 1288.9L819.2 1287.5L821.2 1285.8L822.3 1283.6L822.4 1281.1L823.2 1278.8L823.7 1276.4L824.4 1274.0L825.8 1271.5L828.1 1269.8L829.3 1267.1L831.5 1265.3L832.6 1263.0L833.1 1260.6L830.2 1259.9L827.5 1259.0L828.0 1256.6L829.9 1255.0L832.3 1254.2L834.2 1252.8L836.2 1251.4L839.7 1251.1L838.6 1253.3L838.2 1255.7L837.8 1258.2L839.9 1259.2L842.0 1260.3L844.3 1260.7L846.5 1261.3L848.3 1264.3L851.2 1266.1L850.2 1268.4L849.7 1270.8L852.3 1272.0L854.4 1274.0L857.2 1274.1L859.9 1274.2L862.7 1273.6L865.5 1274.0L867.8 1273.3L869.8 1272.1L871.8 1270.8L874.3 1272.5L875.5 1275.5L878.1 1277.1L877.6 1279.7L876.4 1281.8L874.6 1283.7L873.4 1285.8L872.3 1287.9L871.8 1290.2L871.9 1292.6L871.3 1294.8L870.2 1296.9L869.0 1299.3L868.0 1301.7L867.3 1304.4L865.5 1306.4L864.7 1310.3L862.5 1309.6L860.7 1308.0L858.7 1309.7L856.0 1310.5L854.5 1312.8L852.8 1314.9L850.0 1315.7L848.1 1317.5L848.7 1319.9L849.7 1322.2L852.0 1324.2L854.4 1326.2L853.8 1328.6L852.8 1330.9L850.7 1332.5L848.0 1332.8L845.7 1334.1L841.8 1335.6L843.1 1337.7L844.5 1339.7L846.5 1341.2L846.3 1343.8L845.8 1346.4L845.7 1349.1L847.4 1351.0L848.9 1353.0L851.2 1353.5L853.6 1353.8L855.5 1355.4L856.0 1357.8L856.4 1360.5L856.8 1363.3L859.9 1364.9L857.4 1367.2L854.4 1368.8L851.8 1369.6L849.3 1370.6L846.5 1370.4L843.8 1370.0L841.3 1371.6L838.6 1371.2L836.2 1371.6L834.7 1373.9L832.3 1374.4L829.3 1376.2L825.9 1376.7L822.0 1375.9L823.2 1378.7L824.4 1381.5L822.7 1383.6L822.0 1386.2L820.9 1388.5L819.8 1390.7L818.0 1392.5L817.3 1390.3L816.6 1388.0L814.9 1386.2L812.8 1384.7L811.7 1382.3L811.0 1379.9L810.9 1377.5L808.5 1376.0L807.0 1373.6L804.4 1373.9L802.2 1375.2L799.9 1376.1L798.0 1377.8L795.9 1379.1L793.5 1379.8L791.2 1380.7L788.5 1380.4L785.9 1381.2L783.3 1381.5L780.9 1379.1L779.1 1381.6L778.5 1384.6L775.4 1386.2L776.0 1388.9L776.2 1391.8L777.7 1395.7L777.7 1395.7L775.1 1395.9L773.2 1397.9L770.7 1398.3L767.9 1399.3L765.1 1399.7L762.1 1400.8L760.1 1403.2L758.2 1405.5L755.9 1407.4L752.4 1407.9L749.8 1409.3L746.9 1410.0L744.0 1410.4L741.8 1412.2L740.2 1414.6L738.4 1416.7L736.9 1418.9L735.5 1421.2L733.4 1423.0L732.5 1425.7L730.6 1427.9L727.8 1428.3L724.0 1426.9L722.4 1425.0L720.8 1423.0L716.6 1422.7L713.4 1420.2L714.5 1416.0L715.2 1413.5L716.2 1411.1L713.8 1409.0L710.3 1410.4L710.0 1413.2L707.9 1415.3L707.4 1418.1L707.4 1420.5L706.7 1422.8L706.4 1425.1L705.2 1427.4L703.2 1429.0L699.0 1429.5L696.5 1429.7L694.1 1430.8L692.0 1429.3L689.9 1427.9L687.8 1426.5L686.7 1423.0L688.3 1420.7L689.2 1418.1L690.2 1415.5L691.6 1413.2L693.4 1411.1L692.3 1408.3L687.8 1408.6L685.0 1409.7L682.2 1410.4L679.3 1410.3L676.5 1411.1L673.7 1413.9L670.9 1416.3L668.6 1415.0L666.7 1413.2L664.6 1411.1L662.5 1409.0L660.4 1406.9L658.2 1405.7L656.2 1404.2L654.1 1403.0L653.4 1402.4L655.8 1400.0L658.6 1398.0L659.5 1393.6L656.9 1393.0L654.3 1392.2L651.6 1391.9L649.0 1392.8L646.3 1392.9L643.7 1393.6L642.7 1391.3L641.3 1389.1L639.1 1387.4L638.4 1384.9L637.5 1382.5L636.3 1380.3L636.9 1377.4L635.6 1375.2L634.9 1372.8L634.0 1370.4Z" fill="#f0f8ff"/>
<path d="M798.1 1390.5L800.4 1391.7L801.9 1393.8L805.1 1394.3L805.4 1395.5L804.0 1397.6L805.4 1399.9L807.5 1403.4L807.5 1405.8L805.1 1406.6L802.7 1406.2L800.4 1406.9L798.1 1407.2L795.8 1407.5L793.5 1406.7L791.1 1406.3L789.6 1403.4L790.2 1399.9L792.0 1397.6L791.4 1395.5L794.6 1393.2L796.3 1391.1Z" fill="#87d9ee"/>
<path d="M806.5 1403.2L810.7 1404.6L812.2 1406.6L814.2 1408.1L815.6 1412.3L812.8 1415.8L812.6 1418.4L813.5 1420.7L811.0 1421.2L808.6 1422.2L805.1 1419.3L805.6 1416.5L805.8 1413.7L804.4 1411.8L803.7 1409.5L804.9 1407.5L804.9 1405.0Z" fill="#f0f8ff"/>
<path d="M738.0 1628.1L740.5 1626.7L743.3 1626.5L746.4 1626.1L749.6 1625.9L751.2 1630.2L751.3 1633.4L750.2 1636.5L749.7 1639.3L748.0 1641.8L745.4 1644.9L743.7 1647.0L740.8 1647.1L739.1 1649.1L736.7 1647.5L733.8 1647.0L732.1 1645.0L730.7 1642.8L730.7 1640.1L731.7 1637.5L733.7 1635.2L734.3 1632.3L735.9 1629.9Z" fill="#f0f8ff"/>
<path d="M839.4 1569.0L842.9 1571.7L843.4 1574.7L843.8 1577.8L842.6 1580.0L842.8 1582.6L842.0 1584.9L840.9 1586.9L840.1 1589.2L839.2 1591.4L838.5 1593.6L838.0 1596.0L836.7 1598.0L835.8 1600.2L835.0 1602.4L834.2 1604.7L833.2 1606.8L832.6 1603.4L830.6 1600.7L830.2 1598.2L828.9 1595.9L828.0 1593.6L828.7 1591.0L827.9 1588.4L828.0 1585.7L828.1 1583.1L829.9 1581.1L830.6 1578.7L831.4 1576.5L833.6 1575.0L834.1 1572.6L837.1 1571.4Z" fill="#eeeeee"/>
</g>
<g fill="none" stroke="#8a8a8a">
<rect x="878.4" y="1571.8" width="51.0" height="74.3" stroke-width="1.5" fill="#fff"/>
<path d="M878.4 1574.5L881.3 1571.8H911.1C907 1574.2 904.5 1576.2 901.6 1577.4C897 1579.2 893 1580.2 889.5 1581.1L883.2 1580.3Z" fill="#eee" stroke-width=".8"/>
<path d="M919 1571.8L922.4 1577.4L925.1 1571.8Z" fill="#eee" stroke-width=".8"/>
<path d="M887.9 1584.2L892.9 1583.2L890.8 1589L886.3 1590Z" fill="#f4f4f4" stroke-width=".8"/>
<path d="M918.3 1594.3H920.8V1599.8H918.3Z" stroke-width=".8"/>
<path d="M927.6 1577.3L924.6 1581.9M922.2 1585.3L919.5 1589.8M887.1 1597.1L889 1602.7M892.4 1609.2L887.1 1614.5M882.8 1623.4L884.2 1627.7M912.4 1621.3L907.7 1628.4" stroke-width="1.1"/>
<path d="M920.6 1607.9L916.4 1612.9" stroke-width="1.8" stroke="#a0a0a0"/>
</g>
<g font-size="12" fill="#000" text-anchor="middle">
<text x="535.6" y="1397.5">新疆</text>
<text x="565.1" y="1509.9">西藏</text>
<text x="630.1" y="1455.5">青海</text>
<text x="689.8" y="1450.9">甘肃</text>
<text x="710.5" y="1437.9">宁夏</text>
<text x="755.8" y="1385.9">内蒙古</text>
<text x="899.8" y="1330.8">黑龙江</text>
<text x="872.4" y="1363.1">吉林</text>
<text x="855.9" y="1387.0">辽宁</text>
<text x="796.2" y="1408.0">北京</text>
<text x="807.4" y="1420.3">天津</text>
<text x="780.0" y="1428.4">河北</text>
<text x="757.6" y="1442.1">山西</text>
<text x="809.9" y="1449.1">山东</text>
<text x="733.3" y="1472.3">陕西</text>
<text x="773.0" y="1477.2">河南</text>
<text x="825.0" y="1485.7">江苏</text>
<text x="803.9" y="1505.7">安徽</text>
<text x="839.0" y="1505.7">上海</text>
<text x="769.9" y="1512.4">湖北</text>
<text x="691.5" y="1511.7">四川</text>
<text x="718.9" y="1525.4">重庆</text>
<text x="827.5" y="1528.2">浙江</text>
<text x="756.9" y="1540.8">湖南</text>
<text x="789.2" y="1545.7">江西</text>
<text x="714.4" y="1559.1">贵州</text>
<text x="812.7" y="1564.4">福建</text>
<text x="670.5" y="1579.1">云南</text>
<text x="769.5" y="1589.6">广东</text>
<text x="839.0" y="1587.2">台湾</text>
<text x="727.7" y="1601.2">广西</text>
<text x="785.7" y="1611.8">香港</text>
<text x="763.5" y="1616.0">澳门</text>
<text x="740.0" y="1644.1">海南</text>
<text x="903.6" y="1640.7">南海诸岛</text>
</g></svg>
<table class="abs tc" style="left:1144px;top:1199px;width:450px"><colgroup><col style="width:90px"><col style="width:225px"><col style="width:135px"></colgroup><tr><th class="sep">序号</th><th class="sep">省份</th><th>浏览量(PV)</th></tr><tr><td class="la">1</td><td>江苏省</td><td class="la">356</td></tr><tr><td class="la">2</td><td>广东省</td><td class="la">214</td></tr><tr><td class="la">3</td><td>北京</td><td class="la">197</td></tr><tr><td class="la">4</td><td>上海</td><td class="la">171</td></tr><tr><td class="la">5</td><td>浙江省</td><td class="la">163</td></tr><tr><td class="la">6</td><td>山东省</td><td class="la">103</td></tr><tr><td class="la">7</td><td>四川省</td><td class="la">81</td></tr><tr><td class="la">8</td><td>辽宁省</td><td class="la">72</td></tr><tr><td class="la">9</td><td>河南省</td><td class="la">61</td></tr><tr><td class="la">10</td><td>陕西省</td><td class="la">57</td></tr></table>
<div class="panel" style="left:220px;top:1777px;width:828px;height:643px"><div class="pt"><i>30</i>日<i>TOP10</i>应用访问统计</div><div class="pl" style="top:56.9px"></div></div>
<div class="panel" style="left:1064px;top:1777px;width:828px;height:643px"><div class="pt"><i>30</i>日<i>TOP10</i>浏览器访问统计</div><div class="pl" style="top:56.9px"></div></div>
<table class="abs tl" style="left:244px;top:1858px;width:780px"><colgroup><col style="width:623px"><col style="width:157px"></colgroup><tr><th class="sep">应用名称</th><th>访问量</th></tr><tr><td>人力资源管理系统</td><td class="la">200</td></tr><tr><td class="la">OAuth v2.0_Demo</td><td class="la">145</td></tr><tr><td>泛微OA</td><td class="la">110</td></tr><tr><td class="la">OpenID Connect 1.0 Demo</td><td class="la">85</td></tr><tr><td class="la">RuoYi-Vue-Plus</td><td class="la">66</td></tr><tr><td>MaxKey管理系统</td><td class="la">27</td></tr><tr><td>客服后台管理系统</td><td class="la">25</td></tr><tr><td class="la">JWT Demo</td><td class="la">3</td></tr><tr><td class="la">CAS Demo</td><td class="la">3</td></tr><tr><td class="la">Jira</td><td class="la">2</td></tr></table>
<table class="abs tl" style="left:1088px;top:1858px;width:780px"><colgroup><col style="width:507px"><col style="width:273px"></colgroup><tr><th class="sep">浏览器</th><th>访问量</th></tr><tr><td class="la">Chrome/131</td><td class="la">1279</td></tr><tr><td class="la">Chrome/130</td><td class="la">218</td></tr><tr><td class="la">Firefox/133</td><td class="la">58</td></tr><tr><td class="la">Chrome/122</td><td class="la">47</td></tr><tr><td class="la">Chrome/129</td><td class="la">42</td></tr><tr><td class="la">Chrome/126</td><td class="la">37</td></tr><tr><td class="la">Chrome/127</td><td class="la">27</td></tr><tr><td class="la">Chrome/86</td><td class="la">21</td></tr><tr><td class="la">Chrome/133</td><td class="la">21</td></tr><tr><td class="la">Other</td><td class="la">20</td></tr></table>
</body></html>
